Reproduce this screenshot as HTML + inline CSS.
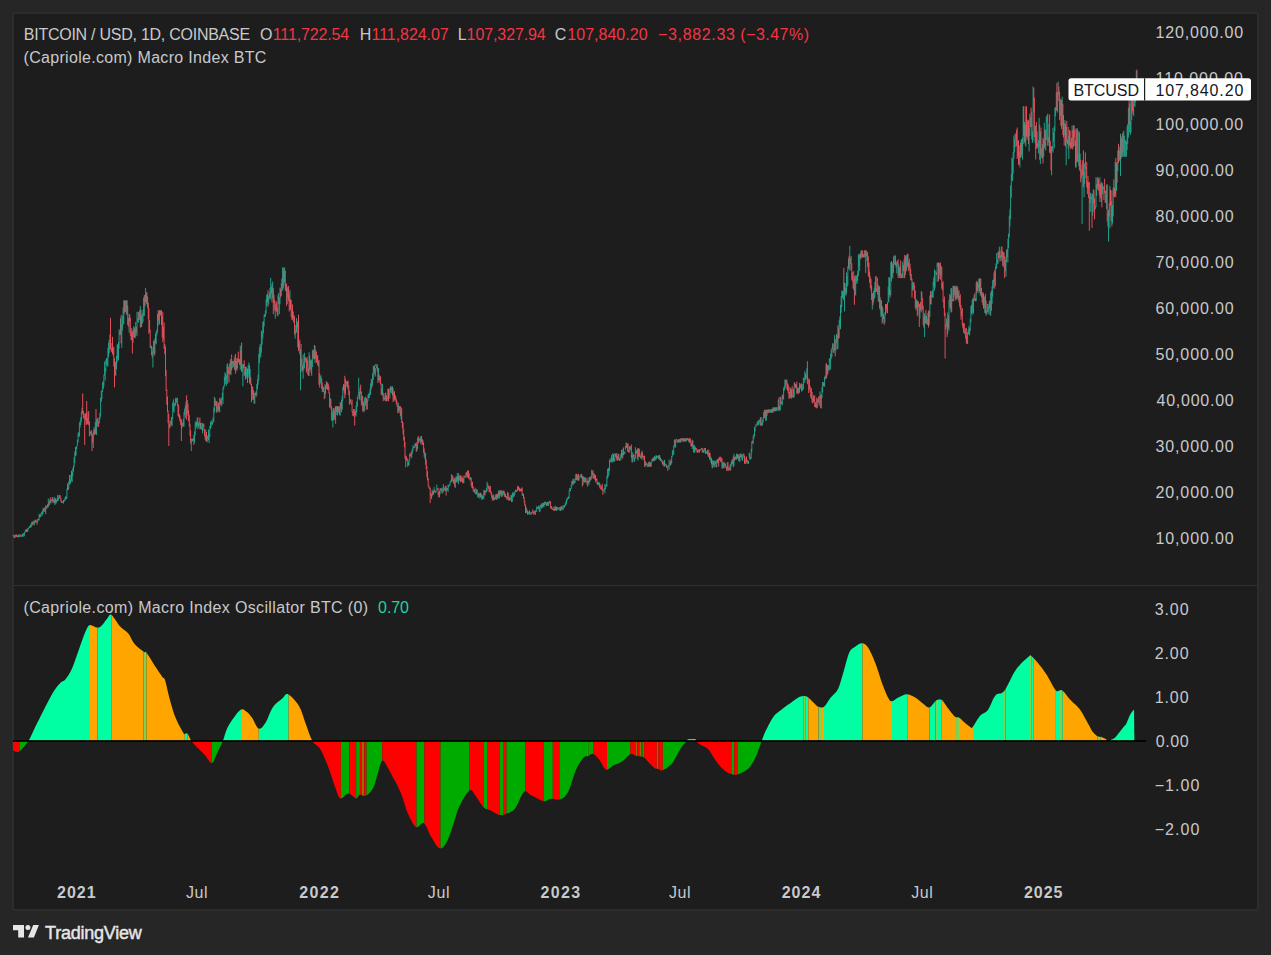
<!DOCTYPE html>
<html><head><meta charset="utf-8"><style>
html,body{margin:0;padding:0;width:1271px;height:955px;overflow:hidden;background:#262626}
.t{position:absolute;font-family:"Liberation Sans",sans-serif;white-space:nowrap;line-height:20px}
svg{position:absolute;left:0;top:0}
</style></head><body>
<div style="position:absolute;left:12px;top:12px;width:1243px;height:895px;border:2px solid #2c2c2c;border-radius:3px;background:#1d1d1d"></div>
<svg width="1271" height="955" viewBox="0 0 1271 955">
<rect x="13" y="585" width="1244" height="1" fill="#313131"/>
<defs><clipPath id="oc"><path d="M13,741 L13,749 C13.12,749.28 12.67,750.28 13.7,750.7 C14.73,751.12 16.75,753.12 19.2,751.5 C21.65,749.88 25.75,745.03 28.4,741 C31.05,736.97 32.58,732.38 35.1,727.3 C37.62,722.22 40.57,716.23 43.5,710.5 C46.43,704.77 49.90,697.50 52.7,692.9 C55.50,688.30 58.20,685.13 60.3,682.9 C62.40,680.67 63.35,681.88 65.3,679.5 C67.25,677.12 69.48,674.32 72,668.6 C74.52,662.88 78.17,651.33 80.4,645.2 C82.63,639.07 83.87,635.17 85.4,631.8 C86.93,628.43 87.65,625.70 89.6,625 C91.55,624.30 95.15,627.43 97.1,627.6 C99.05,627.77 99.62,627.53 101.3,626 C102.98,624.47 105.53,620.28 107.2,618.4 C108.87,616.52 109.22,613.45 111.3,614.7 C113.38,615.95 117.32,623.20 119.7,625.9 C122.08,628.60 124.07,629.50 125.6,630.9 C127.13,632.30 127.37,632.07 128.9,634.3 C130.43,636.53 132.28,641.37 134.8,644.3 C137.32,647.23 142.05,650.50 144,651.9 C145.95,653.30 144.55,650.18 146.5,652.7 C148.45,655.22 153.05,662.95 155.7,667 C158.35,671.05 160.85,674.82 162.4,677 C163.95,679.18 163.73,676.23 165,680.1 C166.27,683.97 168.18,693.78 170,700.2 C171.82,706.62 173.67,713.15 175.9,718.6 C178.13,724.05 181.87,730.38 183.4,732.9 C184.93,735.42 184.40,733.57 185.1,733.7 C185.80,733.83 186.53,732.48 187.6,733.7 C188.67,734.92 189.68,738.48 191.5,741 C193.32,743.52 196.22,746.38 198.5,748.8 C200.78,751.22 202.97,753.13 205.2,755.5 C207.43,757.87 209.95,763.28 211.9,763 C213.85,762.72 215.08,757.47 216.9,753.8 C218.72,750.13 221.12,745.18 222.8,741 C224.48,736.82 225.18,732.57 227,728.7 C228.82,724.83 231.33,721.02 233.7,717.8 C236.07,714.58 238.98,710.37 241.2,709.4 C243.42,708.43 245.18,710.60 247,712 C248.82,713.40 250.13,715.02 252.1,717.8 C254.07,720.58 256.57,727.87 258.8,728.7 C261.03,729.53 263.13,726.43 265.5,722.8 C267.87,719.17 270.20,710.95 273,706.9 C275.80,702.85 279.78,700.60 282.3,698.5 C284.82,696.40 285.32,693.05 288.1,694.3 C290.88,695.55 296.07,701.10 299,706 C301.93,710.90 303.47,717.87 305.7,723.7 C307.93,729.53 309.95,736.73 312.4,741 C314.85,745.27 317.67,744.73 320.4,749.3 C323.13,753.87 326.42,762.28 328.8,768.4 C331.18,774.52 332.78,781.00 334.7,786 C336.62,791.00 338.02,797.15 340.3,798.4 C342.58,799.65 345.80,793.50 348.4,793.5 C351.00,793.50 353.98,798.20 355.9,798.4 C357.82,798.60 358.15,795.17 359.9,794.7 C361.65,794.23 364.15,796.80 366.4,795.6 C368.65,794.40 371.50,791.22 373.4,787.5 C375.30,783.78 376.32,777.78 377.8,773.3 C379.28,768.82 380.62,761.52 382.3,760.6 C383.98,759.68 385.98,764.73 387.9,767.8 C389.82,770.87 392.42,776.47 393.8,779 C395.18,781.53 394.82,780.13 396.2,783 C397.58,785.87 400.13,791.07 402.1,796.2 C404.07,801.33 405.68,808.67 408,813.8 C410.32,818.93 413.32,825.40 416,827 C418.68,828.60 421.53,821.68 424.1,823.4 C426.67,825.12 428.83,833.15 431.4,837.3 C433.97,841.45 437.05,847.32 439.5,848.3 C441.95,849.28 444.02,846.50 446.1,843.2 C448.18,839.90 449.80,834.62 452,828.5 C454.20,822.38 456.37,812.85 459.3,806.5 C462.23,800.15 466.95,792.28 469.6,790.4 C472.25,788.52 472.83,792.35 475.2,795.2 C477.57,798.05 481.10,804.92 483.8,807.5 C486.50,810.08 488.77,809.43 491.4,810.7 C494.03,811.97 496.88,814.68 499.6,815.1 C502.32,815.52 505.08,814.35 507.7,813.2 C510.32,812.05 512.57,811.77 515.3,808.2 C518.03,804.63 521.37,793.90 524.1,791.8 C526.83,789.70 528.45,794.03 531.7,795.6 C534.95,797.17 540.45,800.68 543.6,801.2 C546.75,801.72 547.77,799.02 550.6,798.7 C553.43,798.38 557.67,800.45 560.6,799.3 C563.53,798.15 565.67,796.62 568.2,791.8 C570.73,786.98 573.28,776.07 575.8,770.4 C578.32,764.73 581.20,760.22 583.3,757.8 C585.40,755.38 586.72,756.53 588.4,755.9 C590.08,755.27 591.52,753.27 593.4,754 C595.28,754.73 597.60,757.68 599.7,760.3 C601.80,762.92 603.70,768.87 606,769.7 C608.30,770.53 611.17,766.47 613.5,765.3 C615.83,764.13 618.08,763.77 620,762.7 C621.92,761.63 623.22,760.37 625,758.9 C626.78,757.43 628.92,754.42 630.7,753.9 C632.48,753.38 633.60,755.28 635.7,755.8 C637.80,756.32 641.20,755.97 643.3,757 C645.40,758.03 646.52,760.22 648.3,762 C650.08,763.78 652.42,766.53 654,767.7 C655.58,768.87 656.33,768.58 657.8,769 C659.27,769.42 660.50,771.03 662.8,770.2 C665.10,769.37 669.30,766.40 671.6,764 C673.90,761.60 674.92,758.63 676.6,755.8 C678.28,752.97 679.97,749.47 681.7,747 C683.43,744.53 685.95,742.28 687,741 C688.05,739.72 686.58,739.58 688,739.3 C689.42,739.02 694.08,738.97 695.5,739.3 C696.92,739.63 695.75,740.45 696.5,741.3 C697.25,742.15 698.07,743.10 700,744.4 C701.93,745.70 705.50,746.42 708.1,749.1 C710.70,751.78 712.87,756.93 715.6,760.5 C718.33,764.07 721.77,768.20 724.5,770.5 C727.23,772.80 729.70,773.67 732,774.3 C734.30,774.93 735.57,775.25 738.3,774.3 C741.03,773.35 745.47,771.53 748.4,768.6 C751.33,765.67 753.70,761.30 755.9,756.7 C758.10,752.10 759.92,745.42 761.6,741 C763.28,736.58 764.00,734.30 766,730.2 C768.00,726.10 771.08,719.77 773.6,716.4 C776.12,713.03 778.78,711.90 781.1,710 C783.42,708.10 786.02,706.10 787.5,705 C788.98,703.90 788.32,704.57 790,703.4 C791.68,702.23 795.38,699.22 797.6,698 C799.82,696.78 801.52,696.20 803.3,696.1 C805.08,696.00 806.52,696.25 808.3,697.4 C810.08,698.55 812.32,701.43 814,703 C815.68,704.57 816.73,706.17 818.4,706.8 C820.07,707.43 822.02,708.27 824,706.8 C825.98,705.33 827.98,700.93 830.3,698 C832.62,695.07 835.80,693.18 837.9,689.2 C840.00,685.22 841.02,680.18 842.9,674.1 C844.78,668.02 847.10,657.32 849.2,652.7 C851.30,648.08 853.35,647.98 855.5,646.4 C857.65,644.82 860.00,643.00 862.1,643.2 C864.20,643.40 865.83,644.13 868.1,647.6 C870.37,651.07 873.38,658.12 875.7,664 C878.02,669.88 879.90,677.23 882,682.9 C884.10,688.57 886.63,694.95 888.3,698 C889.97,701.05 890.32,701.30 892,701.2 C893.68,701.10 895.87,698.57 898.4,697.4 C900.93,696.23 904.27,694.10 907.2,694.2 C910.13,694.30 913.48,696.53 916,698 C918.52,699.47 920.10,701.42 922.3,703 C924.50,704.58 926.90,707.92 929.2,707.5 C931.50,707.08 934.30,701.83 936.1,700.5 C937.90,699.17 938.93,699.50 940,699.5 C941.07,699.50 941.03,698.87 942.5,700.5 C943.97,702.13 946.70,706.58 948.8,709.3 C950.90,712.02 953.42,715.43 955.1,716.8 C956.78,718.17 957.22,716.45 958.9,717.5 C960.58,718.55 963.32,721.53 965.2,723.1 C967.08,724.67 968.95,726.27 970.2,726.9 C971.45,727.53 971.02,728.78 972.7,726.9 C974.38,725.02 977.77,718.43 980.3,715.6 C982.83,712.77 985.38,713.27 987.9,709.9 C990.42,706.53 992.68,698.55 995.4,695.4 C998.12,692.25 1000.83,695.20 1004.2,691 C1007.57,686.80 1011.60,675.87 1015.6,670.2 C1019.60,664.53 1025.48,659.30 1028.2,657 C1030.92,654.70 1029.80,654.83 1031.9,656.4 C1034.00,657.97 1038.28,663.25 1040.8,666.4 C1043.32,669.55 1044.48,671.30 1047,675.3 C1049.52,679.30 1053.37,687.88 1055.9,690.4 C1058.43,692.92 1059.68,688.72 1062.2,690.4 C1064.72,692.08 1068.07,697.35 1071,700.5 C1073.93,703.65 1076.85,705.25 1079.8,709.3 C1082.75,713.35 1086.58,721.10 1088.7,724.8 C1090.82,728.50 1091.12,729.65 1092.5,731.5 C1093.88,733.35 1095.52,735.00 1097,735.9 C1098.48,736.80 1099.93,736.38 1101.4,736.9 C1102.87,737.42 1104.70,738.22 1105.8,739 C1106.90,739.78 1107.27,741.38 1108,741.6 C1108.73,741.82 1109.10,740.88 1110.2,740.3 C1111.30,739.72 1113.13,739.35 1114.6,738.1 C1116.07,736.85 1117.43,734.73 1119,732.8 C1120.57,730.87 1122.85,727.87 1124,726.5 C1125.15,725.13 1124.85,726.60 1125.9,724.6 C1126.95,722.60 1128.93,717.02 1130.3,714.5 C1131.67,711.98 1133.47,710.33 1134.1,709.5 L1134.6,741 L1134.6,741 Z"/></clipPath></defs>
<g clip-path="url(#oc)"><rect x="13" y="600" width="6.7" height="260" fill="#ff0000"/><rect x="19.7" y="600" width="8.7" height="260" fill="#00ab00"/><rect x="28.4" y="600" width="61.6" height="260" fill="#00ffa3"/><rect x="90" y="600" width="7.4" height="260" fill="#ffa500"/><rect x="97.4" y="600" width="13.9" height="260" fill="#00ffa3"/><rect x="111.3" y="600" width="32.2" height="260" fill="#ffa500"/><rect x="143.5" y="600" width="3.0" height="260" fill="#7fd152"/><rect x="146.5" y="600" width="38.3" height="260" fill="#ffa500"/><rect x="184.8" y="600" width="2.8" height="260" fill="#00ffa3"/><rect x="187.6" y="600" width="3.9" height="260" fill="#ffa500"/><rect x="191.5" y="600" width="20.1" height="260" fill="#ff0000"/><rect x="211.6" y="600" width="11.2" height="260" fill="#00ab00"/><rect x="222.8" y="600" width="19.2" height="260" fill="#00ffa3"/><rect x="242" y="600" width="16.8" height="260" fill="#ffa500"/><rect x="258.8" y="600" width="29.8" height="260" fill="#00ffa3"/><rect x="288.6" y="600" width="23.8" height="260" fill="#ffa500"/><rect x="312.4" y="600" width="28.5" height="260" fill="#ff0000"/><rect x="340.9" y="600" width="8.4" height="260" fill="#00ab00"/><rect x="349.3" y="600" width="6.9" height="260" fill="#ff0000"/><rect x="356.2" y="600" width="3.7" height="260" fill="#00ab00"/><rect x="359.9" y="600" width="1.8" height="260" fill="#ff0000"/><rect x="361.7" y="600" width="2.6" height="260" fill="#9a6a00"/><rect x="364.3" y="600" width="2.2" height="260" fill="#ff0000"/><rect x="366.5" y="600" width="15.8" height="260" fill="#00ab00"/><rect x="382.3" y="600" width="34.2" height="260" fill="#ff0000"/><rect x="416.5" y="600" width="7.9" height="260" fill="#00ab00"/><rect x="424.4" y="600" width="16.1" height="260" fill="#ff0000"/><rect x="440.5" y="600" width="29.1" height="260" fill="#00ab00"/><rect x="469.6" y="600" width="14.0" height="260" fill="#ff0000"/><rect x="483.6" y="600" width="3.4" height="260" fill="#00ab00"/><rect x="487" y="600" width="12.8" height="260" fill="#ff0000"/><rect x="499.8" y="600" width="3.9" height="260" fill="#00ab00"/><rect x="503.7" y="600" width="2.8" height="260" fill="#ff0000"/><rect x="506.5" y="600" width="18.6" height="260" fill="#00ab00"/><rect x="525.1" y="600" width="18.5" height="260" fill="#ff0000"/><rect x="543.6" y="600" width="9.2" height="260" fill="#00ab00"/><rect x="552.8" y="600" width="6.6" height="260" fill="#ff0000"/><rect x="559.4" y="600" width="27.6" height="260" fill="#00ab00"/><rect x="587" y="600" width="1.4" height="260" fill="#9a6a00"/><rect x="588.4" y="600" width="5.2" height="260" fill="#00ab00"/><rect x="593.6" y="600" width="13.4" height="260" fill="#ff0000"/><rect x="607" y="600" width="23.4" height="260" fill="#00ab00"/><rect x="630.4" y="600" width="5.3" height="260" fill="#ff0000"/><rect x="635.7" y="600" width="1.6" height="260" fill="#9a6a00"/><rect x="637.3" y="600" width="2.2" height="260" fill="#ff0000"/><rect x="639.5" y="600" width="1.6" height="260" fill="#9a6a00"/><rect x="641.1" y="600" width="1.2" height="260" fill="#ff0000"/><rect x="642.3" y="600" width="1.9" height="260" fill="#00ab00"/><rect x="644.2" y="600" width="12.6" height="260" fill="#ff0000"/><rect x="656.8" y="600" width="1.6" height="260" fill="#9a6a00"/><rect x="658.4" y="600" width="4.4" height="260" fill="#ff0000"/><rect x="662.8" y="600" width="24.2" height="260" fill="#00ab00"/><rect x="687" y="600" width="4.5" height="260" fill="#00ffa3"/><rect x="691.5" y="600" width="5.0" height="260" fill="#ffa500"/><rect x="696.5" y="600" width="34.9" height="260" fill="#ff0000"/><rect x="731.4" y="600" width="2.9" height="260" fill="#00ab00"/><rect x="734.3" y="600" width="3.7" height="260" fill="#ff0000"/><rect x="738" y="600" width="23.6" height="260" fill="#00ab00"/><rect x="761.6" y="600" width="41.7" height="260" fill="#00ffa3"/><rect x="803.3" y="600" width="2.5" height="260" fill="#7fd152"/><rect x="805.8" y="600" width="2.5" height="260" fill="#00ffa3"/><rect x="808.3" y="600" width="10.1" height="260" fill="#ffa500"/><rect x="818.4" y="600" width="2.6" height="260" fill="#7fd152"/><rect x="821" y="600" width="3" height="260" fill="#ffa500"/><rect x="824" y="600" width="38.5" height="260" fill="#00ffa3"/><rect x="862.5" y="600" width="29.5" height="260" fill="#ffa500"/><rect x="892" y="600" width="15.8" height="260" fill="#00ffa3"/><rect x="907.8" y="600" width="21.8" height="260" fill="#ffa500"/><rect x="929.6" y="600" width="5.9" height="260" fill="#00ffa3"/><rect x="935.5" y="600" width="2.5" height="260" fill="#7fd152"/><rect x="938" y="600" width="3.2" height="260" fill="#00ffa3"/><rect x="941.2" y="600" width="13.8" height="260" fill="#ffa500"/><rect x="955" y="600" width="4" height="260" fill="#7fd152"/><rect x="959" y="600" width="14" height="260" fill="#ffa500"/><rect x="973" y="600" width="31" height="260" fill="#00ffa3"/><rect x="1004" y="600" width="1.7" height="260" fill="#7fd152"/><rect x="1005.7" y="600" width="24.3" height="260" fill="#00ffa3"/><rect x="1030" y="600" width="1.8" height="260" fill="#7fd152"/><rect x="1031.8" y="600" width="2.0" height="260" fill="#00ffa3"/><rect x="1033.8" y="600" width="22.1" height="260" fill="#ffa500"/><rect x="1055.9" y="600" width="3.1" height="260" fill="#00ffa3"/><rect x="1059" y="600" width="2" height="260" fill="#7fd152"/><rect x="1061" y="600" width="1.8" height="260" fill="#00ffa3"/><rect x="1062.8" y="600" width="34.6" height="260" fill="#ffa500"/><rect x="1097.4" y="600" width="3.3" height="260" fill="#7fd152"/><rect x="1100.7" y="600" width="6.3" height="260" fill="#ffa500"/><rect x="1107" y="600" width="2" height="260" fill="#ff0000"/><rect x="1109" y="600" width="25.6" height="260" fill="#00ffa3"/></g>
<rect x="13" y="740" width="1133" height="2" fill="#000" opacity="0.85"/>
<g fill="none" stroke-width="0.9"><path d="M13.3 534.8V536.1" stroke="#22ab94"/><path d="M13.9 534.9V537.7M14.6 535.7V537.8" stroke="#f7525f"/><path d="M15.2 534.7V537.8M15.9 534.5V536.1" stroke="#22ab94"/><path d="M16.6 534.5V537.0M17.2 535.3V536.9M17.9 535.5V537.2" stroke="#f7525f"/><path d="M18.5 534.9V537.4M19.2 534.2V535.4" stroke="#22ab94"/><path d="M19.9 534.3V537.2" stroke="#f7525f"/><path d="M20.5 535.1V536.5" stroke="#22ab94"/><path d="M21.2 535.5V536.8" stroke="#f7525f"/><path d="M21.9 534.8V536.7M22.5 533.9V536.6M23.2 533.2V534.6" stroke="#22ab94"/><path d="M23.8 533.2V536.8" stroke="#f7525f"/><path d="M24.5 532.3V535.7M25.2 530.4V532.7M25.8 529.4V532.0" stroke="#22ab94"/><path d="M26.5 529.2V532.0" stroke="#f7525f"/><path d="M27.1 529.1V531.4M27.8 528.0V532.0M28.5 527.9V529.3M29.1 526.3V528.1M29.8 526.0V527.9M30.5 525.0V527.6M31.1 523.5V527.4M31.8 521.7V526.2" stroke="#22ab94"/><path d="M32.4 522.2V524.8" stroke="#f7525f"/><path d="M33.1 520.7V525.1" stroke="#22ab94"/><path d="M33.8 521.9V523.6" stroke="#f7525f"/><path d="M34.4 520.7V525.3" stroke="#22ab94"/><path d="M35.1 520.2V522.7" stroke="#f7525f"/><path d="M35.8 519.4V522.7" stroke="#22ab94"/><path d="M36.4 520.3V521.8M37.1 521.1V524.7" stroke="#f7525f"/><path d="M37.7 518.9V522.3M38.4 518.9V520.2M39.1 513.7V520.5" stroke="#22ab94"/><path d="M39.7 514.9V517.6" stroke="#f7525f"/><path d="M40.4 514.3V516.6M41.0 513.0V517.0M41.7 511.8V514.1M42.4 510.8V515.4M43.0 507.6V513.4" stroke="#22ab94"/><path d="M43.7 509.1V511.7" stroke="#f7525f"/><path d="M44.4 507.8V511.6" stroke="#22ab94"/><path d="M45.0 507.8V511.6" stroke="#f7525f"/><path d="M45.7 505.3V514.2" stroke="#22ab94"/><path d="M46.3 506.1V508.7" stroke="#f7525f"/><path d="M47.0 505.6V508.4" stroke="#22ab94"/><path d="M47.7 504.0V507.3" stroke="#f7525f"/><path d="M48.3 498.5V507.3" stroke="#22ab94"/><path d="M49.0 502.2V505.6" stroke="#f7525f"/><path d="M49.7 500.2V504.9" stroke="#22ab94"/><path d="M50.3 497.4V502.9" stroke="#f7525f"/><path d="M51.0 499.9V503.4M51.6 499.2V501.1M52.3 497.0V501.2" stroke="#22ab94"/><path d="M53.0 497.4V503.2" stroke="#f7525f"/><path d="M53.6 499.7V501.7" stroke="#22ab94"/><path d="M54.3 498.9V503.2" stroke="#f7525f"/><path d="M54.9 497.2V505.0" stroke="#22ab94"/><path d="M55.6 498.5V503.4" stroke="#f7525f"/><path d="M56.3 500.1V503.4M56.9 498.6V501.6M57.6 494.8V501.2M58.3 497.9V500.7M58.9 495.3V498.8M59.6 494.9V498.2" stroke="#22ab94"/><path d="M60.2 495.2V498.6M60.9 497.7V501.7M61.6 500.5V502.8" stroke="#f7525f"/><path d="M62.2 501.2V503.0" stroke="#22ab94"/><path d="M62.9 501.7V502.7" stroke="#f7525f"/><path d="M63.5 499.9V503.6M64.2 499.9V501.7M64.9 497.8V500.9M65.5 496.6V499.9M66.2 496.1V498.9M66.9 488.7V498.9M67.5 483.3V490.1" stroke="#22ab94"/><path d="M68.2 486.2V490.2" stroke="#f7525f"/><path d="M68.8 481.2V488.9M69.5 475.0V484.8M70.2 479.6V484.3M70.8 474.7V482.7" stroke="#22ab94"/><path d="M71.5 470.7V480.8" stroke="#f7525f"/><path d="M72.2 472.0V482.0M72.8 467.9V475.9M73.5 465.5V471.7M74.1 457.0V467.3M74.8 451.5V463.2M75.5 446.9V456.2M76.1 446.6V455.3M76.8 445.6V449.0M77.4 439.6V445.8M78.1 433.0V442.5M78.8 431.8V437.1M79.4 422.6V436.4M80.1 420.9V427.6M80.8 417.3V425.1M81.4 411.4V421.5M82.1 407.7V412.9" stroke="#22ab94"/><path d="M82.7 393.4V414.3M83.4 411.0V418.5M84.1 416.1V417.1M84.7 413.9V445.0" stroke="#f7525f"/><path d="M85.4 413.1V420.1" stroke="#22ab94"/><path d="M86.1 413.2V424.7M86.7 401.0V424.9" stroke="#f7525f"/><path d="M87.4 418.0V424.1M88.0 411.6V423.4" stroke="#22ab94"/><path d="M88.7 411.1V425.3M89.4 421.5V436.4M90.0 431.9V434.6" stroke="#f7525f"/><path d="M90.7 431.5V433.6" stroke="#22ab94"/><path d="M91.3 430.0V435.9M92.0 432.8V451.0M92.7 435.4V442.8" stroke="#f7525f"/><path d="M93.3 430.7V448.0M94.0 427.2V435.3" stroke="#22ab94"/><path d="M94.7 428.9V435.0" stroke="#f7525f"/><path d="M95.3 422.0V434.0" stroke="#22ab94"/><path d="M96.0 409.0V433.8" stroke="#f7525f"/><path d="M96.6 419.2V435.0M97.3 418.7V426.5" stroke="#22ab94"/><path d="M98.0 417.9V422.4M98.6 421.6V427.1" stroke="#f7525f"/><path d="M99.3 417.2V423.4M99.9 413.0V419.2M100.6 397.7V416.7M101.3 390.4V401.8M101.9 391.4V399.0M102.6 382.4V392.0M103.3 380.9V389.0M103.9 374.5V386.2M104.6 361.5V375.7M105.2 368.0V380.4M105.9 359.6V371.5M106.6 358.1V365.4M107.2 357.8V365.2M107.9 348.0V366.7M108.6 342.8V357.3M109.2 339.6V353.2M109.9 334.6V349.3" stroke="#22ab94"/><path d="M110.5 317.8V349.2M111.2 348.1V351.6" stroke="#f7525f"/><path d="M111.9 343.0V352.3" stroke="#22ab94"/><path d="M112.5 336.8V354.2M113.2 348.2V355.6M113.8 346.7V366.5M114.5 358.3V387.4M115.2 361.6V375.1" stroke="#f7525f"/><path d="M115.8 362.6V375.9M116.5 355.9V369.3M117.2 344.7V362.5" stroke="#22ab94"/><path d="M117.8 344.1V358.5" stroke="#f7525f"/><path d="M118.5 342.1V360.4M119.1 329.1V348.7" stroke="#22ab94"/><path d="M119.8 331.0V335.1" stroke="#f7525f"/><path d="M120.5 318.4V334.6" stroke="#22ab94"/><path d="M121.1 315.0V343.4" stroke="#f7525f"/><path d="M121.8 324.1V347.8M122.4 316.0V330.4M123.1 307.6V324.6M123.8 300.3V323.9" stroke="#22ab94"/><path d="M124.4 300.3V312.9" stroke="#f7525f"/><path d="M125.1 300.3V312.1" stroke="#22ab94"/><path d="M125.8 300.8V311.8" stroke="#f7525f"/><path d="M126.4 300.3V314.9" stroke="#22ab94"/><path d="M127.1 300.3V313.7M127.7 305.5V325.1M128.4 318.1V326.9" stroke="#f7525f"/><path d="M129.1 314.2V332.7" stroke="#22ab94"/><path d="M129.7 314.2V321.7M130.4 317.7V335.8M131.1 332.5V340.1" stroke="#f7525f"/><path d="M131.7 328.1V340.2" stroke="#22ab94"/><path d="M132.4 331.6V353.6M133.0 330.3V342.8" stroke="#f7525f"/><path d="M133.7 326.3V337.0M134.4 327.4V337.9" stroke="#22ab94"/><path d="M135.0 329.1V338.2" stroke="#f7525f"/><path d="M135.7 322.0V336.7" stroke="#22ab94"/><path d="M136.3 326.6V332.9" stroke="#f7525f"/><path d="M137.0 311.8V336.1M137.7 318.7V321.6M138.3 312.1V322.8" stroke="#22ab94"/><path d="M139.0 311.7V319.8" stroke="#f7525f"/><path d="M139.7 310.4V320.2M140.3 306.1V327.7" stroke="#22ab94"/><path d="M141.0 309.5V326.9M141.6 315.3V327.1" stroke="#f7525f"/><path d="M142.3 313.5V323.5M143.0 310.0V322.1M143.6 297.6V315.8M144.3 295.0V316.1" stroke="#22ab94"/><path d="M145.0 294.9V306.6" stroke="#f7525f"/><path d="M145.6 287.9V301.9M146.3 292.7V304.5" stroke="#22ab94"/><path d="M146.9 292.3V303.4M147.6 296.5V308.2M148.3 302.8V319.3M148.9 308.1V333.9M149.6 320.2V331.9M150.2 329.8V348.1" stroke="#f7525f"/><path d="M150.9 345.5V348.4" stroke="#22ab94"/><path d="M151.6 345.8V355.1M152.2 351.7V357.5" stroke="#f7525f"/><path d="M152.9 347.3V367.5M153.6 340.6V353.2" stroke="#22ab94"/><path d="M154.2 341.0V355.8" stroke="#f7525f"/><path d="M154.9 338.3V354.4" stroke="#22ab94"/><path d="M155.5 333.6V343.3" stroke="#f7525f"/><path d="M156.2 331.4V344.3M156.9 329.4V335.4M157.5 313.8V332.6M158.2 310.3V325.9" stroke="#22ab94"/><path d="M158.8 310.3V320.4" stroke="#f7525f"/><path d="M159.5 310.3V324.3M160.2 310.3V315.8" stroke="#22ab94"/><path d="M160.8 310.3V315.1M161.5 310.3V324.9M162.2 316.1V337.2M162.8 311.8V342.1" stroke="#f7525f"/><path d="M163.5 326.6V339.4" stroke="#22ab94"/><path d="M164.1 322.5V348.8M164.8 343.9V354.2M165.5 346.6V376.3M166.1 370.0V391.0M166.8 389.3V404.9M167.5 396.6V412.2M168.1 410.6V423.2M168.8 414.0V446.0" stroke="#f7525f"/><path d="M169.4 423.9V428.3" stroke="#22ab94"/><path d="M170.1 420.6V427.5" stroke="#f7525f"/><path d="M170.8 421.3V424.4" stroke="#22ab94"/><path d="M171.4 417.1V425.3" stroke="#f7525f"/><path d="M172.1 417.7V426.4M172.7 402.6V419.1M173.4 399.3V411.2M174.1 402.8V412.7M174.7 403.3V405.3M175.4 397.8V406.3M176.1 401.1V403.1M176.7 397.8V402.1" stroke="#22ab94"/><path d="M177.4 397.8V405.8M178.0 403.7V415.8M178.7 405.3V417.0M179.4 414.2V419.4M180.0 415.4V421.8M180.7 418.5V425.0M181.4 419.7V441.0" stroke="#f7525f"/><path d="M182.0 423.0V428.0" stroke="#22ab94"/><path d="M182.7 422.5V426.2" stroke="#f7525f"/><path d="M183.3 418.9V426.5M184.0 412.0V426.7M184.7 408.6V415.3M185.3 405.4V418.1M186.0 401.7V409.3" stroke="#22ab94"/><path d="M186.6 395.3V419.8" stroke="#f7525f"/><path d="M187.3 400.0V413.9" stroke="#22ab94"/><path d="M188.0 403.7V415.9M188.6 410.3V421.4M189.3 415.1V426.6M190.0 423.7V435.8M190.6 430.3V443.5" stroke="#f7525f"/><path d="M191.3 438.6V451.0" stroke="#22ab94"/><path d="M191.9 439.0V440.8" stroke="#f7525f"/><path d="M192.6 438.6V441.3" stroke="#22ab94"/><path d="M193.3 438.5V440.7M193.9 434.8V444.9" stroke="#f7525f"/><path d="M194.6 431.3V442.8M195.2 422.5V435.1M195.9 421.1V428.9M196.6 422.1V426.9M197.2 417.5V425.7" stroke="#22ab94"/><path d="M197.9 417.5V429.1" stroke="#f7525f"/><path d="M198.6 423.1V427.4M199.2 421.6V424.9" stroke="#22ab94"/><path d="M199.9 417.5V429.5" stroke="#f7525f"/><path d="M200.5 422.8V428.7" stroke="#22ab94"/><path d="M201.2 422.9V429.4M201.9 427.4V429.5" stroke="#f7525f"/><path d="M202.5 423.0V433.5" stroke="#22ab94"/><path d="M203.2 424.3V426.7M203.9 423.5V430.6M204.5 429.3V436.2M205.2 435.1V439.9" stroke="#f7525f"/><path d="M205.8 429.4V441.0" stroke="#22ab94"/><path d="M206.5 431.9V441.6" stroke="#f7525f"/><path d="M207.2 435.5V442.3M207.8 436.3V439.0M208.5 429.6V440.2M209.1 433.9V443.0M209.8 425.9V436.9M210.5 421.6V428.8M211.1 422.5V427.4" stroke="#22ab94"/><path d="M211.8 420.0V424.3" stroke="#f7525f"/><path d="M212.5 422.4V424.8M213.1 417.2V423.0M213.8 407.6V421.9M214.4 396.8V412.4" stroke="#22ab94"/><path d="M215.1 398.3V405.6" stroke="#f7525f"/><path d="M215.8 400.8V406.3" stroke="#22ab94"/><path d="M216.4 401.0V412.6" stroke="#f7525f"/><path d="M217.1 406.1V412.6M217.8 401.7V410.7" stroke="#22ab94"/><path d="M218.4 402.9V410.6" stroke="#f7525f"/><path d="M219.1 405.7V412.3M219.7 397.8V412.2" stroke="#22ab94"/><path d="M220.4 398.6V404.8" stroke="#f7525f"/><path d="M221.1 400.2V404.1M221.7 397.4V406.2M222.4 392.7V399.9M223.0 387.6V404.0M223.7 385.7V389.3M224.4 377.0V386.6M225.0 372.2V380.7" stroke="#22ab94"/><path d="M225.7 373.7V384.2" stroke="#f7525f"/><path d="M226.4 375.6V385.8M227.0 364.4V379.0M227.7 363.2V383.7" stroke="#22ab94"/><path d="M228.3 366.7V374.2M229.0 370.6V382.3" stroke="#f7525f"/><path d="M229.7 363.6V373.6" stroke="#22ab94"/><path d="M230.3 359.2V374.3" stroke="#f7525f"/><path d="M231.0 361.4V375.2" stroke="#22ab94"/><path d="M231.6 354.5V370.3" stroke="#f7525f"/><path d="M232.3 360.8V368.1" stroke="#22ab94"/><path d="M233.0 360.9V363.4M233.6 361.5V366.9" stroke="#f7525f"/><path d="M234.3 358.3V369.2" stroke="#22ab94"/><path d="M235.0 355.5V370.3" stroke="#f7525f"/><path d="M235.6 353.8V373.8M236.3 360.9V369.6" stroke="#22ab94"/><path d="M236.9 358.1V370.8" stroke="#f7525f"/><path d="M237.6 358.1V368.6" stroke="#22ab94"/><path d="M238.3 351.7V362.4M238.9 359.1V362.4M239.6 359.3V364.9" stroke="#f7525f"/><path d="M240.3 345.6V369.8" stroke="#22ab94"/><path d="M240.9 350.3V365.2M241.6 342.5V371.9" stroke="#f7525f"/><path d="M242.2 363.9V371.1M242.9 364.7V386.3" stroke="#22ab94"/><path d="M243.6 364.1V368.3M244.2 360.4V376.1" stroke="#f7525f"/><path d="M244.9 371.0V375.4" stroke="#22ab94"/><path d="M245.5 366.6V379.6" stroke="#f7525f"/><path d="M246.2 366.8V378.4M246.9 368.5V376.3" stroke="#22ab94"/><path d="M247.5 368.6V383.0" stroke="#f7525f"/><path d="M248.2 365.5V377.7M248.9 362.4V373.7" stroke="#22ab94"/><path d="M249.5 365.2V383.2" stroke="#f7525f"/><path d="M250.2 369.1V383.9" stroke="#22ab94"/><path d="M250.8 377.5V385.0M251.5 383.8V402.2M252.2 386.2V394.4M252.8 387.0V400.0M253.5 390.3V399.5M254.1 394.7V403.7" stroke="#f7525f"/><path d="M254.8 392.6V403.7M255.5 393.0V395.1" stroke="#22ab94"/><path d="M256.1 391.2V397.0" stroke="#f7525f"/><path d="M256.8 383.8V395.3M257.5 379.3V389.3M258.1 374.7V384.8M258.8 354.2V380.5M259.4 347.4V363.1M260.1 344.3V358.0M260.8 344.6V356.8M261.4 330.6V352.7M262.1 332.2V344.9M262.8 322.3V338.5M263.4 321.1V333.4M264.1 314.6V326.5M264.7 314.1V316.6M265.4 310.4V317.0M266.1 299.4V313.9M266.7 294.7V306.4M267.4 293.9V302.3" stroke="#22ab94"/><path d="M268.0 290.2V306.7" stroke="#f7525f"/><path d="M268.7 296.4V304.6M269.4 292.4V298.9M270.0 287.8V297.1M270.7 277.9V299.6M271.4 286.8V293.4" stroke="#22ab94"/><path d="M272.0 283.8V302.4" stroke="#f7525f"/><path d="M272.7 281.5V298.5" stroke="#22ab94"/><path d="M273.3 288.1V314.1M274.0 294.9V303.1M274.7 299.7V310.6" stroke="#f7525f"/><path d="M275.3 304.4V318.7" stroke="#22ab94"/><path d="M276.0 301.4V310.1M276.7 302.2V312.0M277.3 307.7V315.6" stroke="#f7525f"/><path d="M278.0 295.5V316.3M278.6 293.0V304.0" stroke="#22ab94"/><path d="M279.3 297.0V314.2" stroke="#f7525f"/><path d="M280.0 287.7V304.4" stroke="#22ab94"/><path d="M280.6 288.6V297.3" stroke="#f7525f"/><path d="M281.3 283.2V295.8M281.9 278.6V288.3M282.6 267.4V290.9" stroke="#22ab94"/><path d="M283.3 267.6V288.6" stroke="#f7525f"/><path d="M283.9 270.9V285.7M284.6 267.4V282.6" stroke="#22ab94"/><path d="M285.3 270.5V291.0" stroke="#f7525f"/><path d="M285.9 282.9V290.7" stroke="#22ab94"/><path d="M286.6 284.0V305.9" stroke="#f7525f"/><path d="M287.2 286.5V304.1M287.9 288.1V297.4" stroke="#22ab94"/><path d="M288.6 286.0V301.1M289.2 294.4V311.6" stroke="#f7525f"/><path d="M289.9 290.2V309.3" stroke="#22ab94"/><path d="M290.5 299.5V310.0M291.2 299.8V317.1" stroke="#f7525f"/><path d="M291.9 309.5V320.0" stroke="#22ab94"/><path d="M292.5 304.5V319.3M293.2 311.5V321.2" stroke="#f7525f"/><path d="M293.9 315.1V323.0" stroke="#22ab94"/><path d="M294.5 316.3V334.6" stroke="#f7525f"/><path d="M295.2 330.0V338.6M295.8 324.9V333.4M296.5 318.1V332.4M297.2 322.6V328.2" stroke="#22ab94"/><path d="M297.8 321.0V347.4M298.5 314.7V351.2" stroke="#f7525f"/><path d="M299.2 341.9V349.2" stroke="#22ab94"/><path d="M299.8 339.7V354.4" stroke="#f7525f"/><path d="M300.5 349.4V390.3" stroke="#22ab94"/><path d="M301.1 344.0V365.9M301.8 358.7V372.1M302.5 365.5V370.3" stroke="#f7525f"/><path d="M303.1 354.5V378.8M303.8 362.0V370.4M304.4 352.8V368.2" stroke="#22ab94"/><path d="M305.1 357.2V360.5M305.8 357.5V362.5M306.4 358.9V372.6M307.1 357.1V370.1M307.8 360.5V374.5M308.4 368.7V375.9" stroke="#f7525f"/><path d="M309.1 352.3V375.9" stroke="#22ab94"/><path d="M309.7 355.6V370.6" stroke="#f7525f"/><path d="M310.4 359.7V369.3" stroke="#22ab94"/><path d="M311.1 361.0V373.1" stroke="#f7525f"/><path d="M311.7 359.5V375.9M312.4 349.9V367.0" stroke="#22ab94"/><path d="M313.1 351.5V358.4" stroke="#f7525f"/><path d="M313.7 349.5V359.2" stroke="#22ab94"/><path d="M314.4 345.0V359.3" stroke="#f7525f"/><path d="M315.0 345.9V362.9" stroke="#22ab94"/><path d="M315.7 349.9V358.6M316.4 351.7V362.5M317.0 355.0V363.2M317.7 355.4V365.2" stroke="#f7525f"/><path d="M318.3 361.4V366.6" stroke="#22ab94"/><path d="M319.0 360.0V384.9M319.7 372.9V387.6" stroke="#f7525f"/><path d="M320.3 376.3V383.6M321.0 375.2V382.1" stroke="#22ab94"/><path d="M321.7 378.4V388.8M322.3 382.6V392.1" stroke="#f7525f"/><path d="M323.0 387.1V391.1" stroke="#22ab94"/><path d="M323.6 386.9V392.0M324.3 391.2V399.2" stroke="#f7525f"/><path d="M325.0 384.3V398.2" stroke="#22ab94"/><path d="M325.6 385.4V393.9" stroke="#f7525f"/><path d="M326.3 381.3V388.8" stroke="#22ab94"/><path d="M326.9 381.8V388.9M327.6 382.8V390.0M328.3 383.7V389.9M328.9 386.1V393.5M329.6 392.6V407.7" stroke="#f7525f"/><path d="M330.3 398.2V406.4" stroke="#22ab94"/><path d="M330.9 399.2V409.1M331.6 406.1V420.2" stroke="#f7525f"/><path d="M332.2 412.4V421.2M332.9 409.4V427.5" stroke="#22ab94"/><path d="M333.6 408.0V420.0" stroke="#f7525f"/><path d="M334.2 410.9V418.6" stroke="#22ab94"/><path d="M334.9 407.6V420.2" stroke="#f7525f"/><path d="M335.6 406.1V423.8" stroke="#22ab94"/><path d="M336.2 406.1V411.8" stroke="#f7525f"/><path d="M336.9 406.1V415.0" stroke="#22ab94"/><path d="M337.5 406.1V415.5" stroke="#f7525f"/><path d="M338.2 406.5V413.2" stroke="#22ab94"/><path d="M338.9 406.4V411.5" stroke="#f7525f"/><path d="M339.5 406.8V415.2M340.2 401.9V415.6" stroke="#22ab94"/><path d="M340.8 403.2V408.5" stroke="#f7525f"/><path d="M341.5 399.8V412.2M342.2 395.8V409.7M342.8 387.2V401.1M343.5 384.1V390.2" stroke="#22ab94"/><path d="M344.2 384.6V392.8M344.8 375.8V398.2" stroke="#f7525f"/><path d="M345.5 378.8V394.7M346.1 381.2V387.5" stroke="#22ab94"/><path d="M346.8 381.2V384.7M347.5 381.3V387.1M348.1 380.5V389.9M348.8 385.3V395.2M349.4 390.7V404.7" stroke="#f7525f"/><path d="M350.1 399.4V403.1" stroke="#22ab94"/><path d="M350.8 399.1V403.3" stroke="#f7525f"/><path d="M351.4 402.6V404.7" stroke="#22ab94"/><path d="M352.1 399.7V412.4M352.8 410.9V415.8" stroke="#f7525f"/><path d="M353.4 409.1V416.4" stroke="#22ab94"/><path d="M354.1 411.5V415.5M354.7 409.0V425.6M355.4 410.9V415.4" stroke="#f7525f"/><path d="M356.1 405.9V416.6M356.7 401.6V412.2M357.4 397.0V406.7M358.1 394.8V398.6M358.7 377.8V395.6" stroke="#22ab94"/><path d="M359.4 391.6V399.4" stroke="#f7525f"/><path d="M360.0 387.9V400.4" stroke="#22ab94"/><path d="M360.7 384.6V393.9M361.4 391.6V405.6" stroke="#f7525f"/><path d="M362.0 395.8V403.6" stroke="#22ab94"/><path d="M362.7 396.0V411.6" stroke="#f7525f"/><path d="M363.3 401.5V410.8" stroke="#22ab94"/><path d="M364.0 402.4V412.3" stroke="#f7525f"/><path d="M364.7 397.9V410.6M365.3 396.6V405.9M366.0 397.7V403.1" stroke="#22ab94"/><path d="M366.7 398.1V409.6" stroke="#f7525f"/><path d="M367.3 399.6V409.5M368.0 394.7V401.0M368.6 393.7V398.0M369.3 392.6V398.2M370.0 389.2V393.5M370.6 383.3V395.2M371.3 378.9V389.5" stroke="#22ab94"/><path d="M372.0 379.7V387.0" stroke="#f7525f"/><path d="M372.6 373.3V385.2M373.3 365.9V379.9" stroke="#22ab94"/><path d="M373.9 366.3V372.1" stroke="#f7525f"/><path d="M374.6 365.0V374.3" stroke="#22ab94"/><path d="M375.3 367.8V376.5" stroke="#f7525f"/><path d="M375.9 363.9V366.3M376.6 365.8V368.3" stroke="#22ab94"/><path d="M377.2 364.1V371.6M377.9 367.6V383.1" stroke="#f7525f"/><path d="M378.6 368.0V380.4" stroke="#22ab94"/><path d="M379.2 374.7V380.4M379.9 376.8V382.9M380.6 376.1V384.6M381.2 383.4V394.8M381.9 388.2V395.0" stroke="#f7525f"/><path d="M382.5 383.8V395.5" stroke="#22ab94"/><path d="M383.2 392.6V401.2" stroke="#f7525f"/><path d="M383.9 395.2V398.8M384.5 397.9V399.7" stroke="#22ab94"/><path d="M385.2 392.9V401.2" stroke="#f7525f"/><path d="M385.8 392.7V401.2" stroke="#22ab94"/><path d="M386.5 395.5V401.2" stroke="#f7525f"/><path d="M387.2 397.5V401.2M387.8 388.6V399.0" stroke="#22ab94"/><path d="M388.5 388.8V401.2" stroke="#f7525f"/><path d="M389.2 394.1V395.1M389.8 388.4V398.6M390.5 386.3V392.7" stroke="#22ab94"/><path d="M391.1 386.3V390.1M391.8 387.3V393.6" stroke="#f7525f"/><path d="M392.5 386.3V395.5" stroke="#22ab94"/><path d="M393.1 388.1V402.0" stroke="#f7525f"/><path d="M393.8 392.5V400.7" stroke="#22ab94"/><path d="M394.5 391.2V399.4M395.1 394.9V401.5M395.8 396.3V400.1M396.4 399.2V404.4M397.1 401.3V406.8M397.8 404.7V413.1" stroke="#f7525f"/><path d="M398.4 403.0V411.6" stroke="#22ab94"/><path d="M399.1 406.1V413.3" stroke="#f7525f"/><path d="M399.7 406.1V410.4" stroke="#22ab94"/><path d="M400.4 406.1V416.2" stroke="#f7525f"/><path d="M401.1 410.1V419.4" stroke="#22ab94"/><path d="M401.7 407.6V423.0M402.4 421.0V428.5M403.1 422.8V434.6M403.7 429.0V440.5M404.4 436.6V447.2M405.0 442.0V458.6" stroke="#f7525f"/><path d="M405.7 455.4V467.3" stroke="#22ab94"/><path d="M406.4 456.3V460.8M407.0 458.0V460.2M407.7 459.4V466.7" stroke="#f7525f"/><path d="M408.4 461.8V465.7M409.0 459.7V465.1M409.7 453.6V460.4" stroke="#22ab94"/><path d="M410.3 453.8V456.1M411.0 452.4V456.8" stroke="#f7525f"/><path d="M411.7 451.0V458.2M412.3 448.5V453.7M413.0 445.1V451.1M413.6 446.7V448.0" stroke="#22ab94"/><path d="M414.3 446.8V448.3" stroke="#f7525f"/><path d="M415.0 443.1V447.4" stroke="#22ab94"/><path d="M415.6 443.8V446.5M416.3 442.3V451.9" stroke="#f7525f"/><path d="M417.0 444.4V450.9M417.6 437.6V448.9" stroke="#22ab94"/><path d="M418.3 436.0V443.5" stroke="#f7525f"/><path d="M418.9 437.4V441.6M419.6 439.0V440.4" stroke="#22ab94"/><path d="M420.3 437.6V442.7" stroke="#f7525f"/><path d="M420.9 436.0V444.3" stroke="#22ab94"/><path d="M421.6 436.0V442.0M422.2 439.0V445.0M422.9 439.9V445.0M423.6 442.3V452.8M424.2 448.5V456.8" stroke="#f7525f"/><path d="M424.9 452.1V459.2" stroke="#22ab94"/><path d="M425.6 453.2V464.8M426.2 459.3V469.4M426.9 465.8V477.2M427.5 471.2V480.3M428.2 477.9V486.4M428.9 485.3V488.2M429.5 487.6V489.2M430.2 487.5V503.1M430.9 492.8V496.1M431.5 494.1V498.9" stroke="#f7525f"/><path d="M432.2 489.6V496.4" stroke="#22ab94"/><path d="M432.8 491.6V494.6" stroke="#f7525f"/><path d="M433.5 490.7V494.9M434.2 487.2V492.9" stroke="#22ab94"/><path d="M434.8 490.1V491.7" stroke="#f7525f"/><path d="M435.5 491.5V493.0M436.1 489.8V492.3M436.8 484.6V490.2M437.5 488.5V489.5" stroke="#22ab94"/><path d="M438.1 487.9V494.9M438.8 492.3V497.5" stroke="#f7525f"/><path d="M439.5 490.6V497.2M440.1 488.2V494.3" stroke="#22ab94"/><path d="M440.8 488.1V490.2M441.4 488.4V491.6M442.1 490.5V493.4" stroke="#f7525f"/><path d="M442.8 487.4V493.2M443.4 484.2V491.4" stroke="#22ab94"/><path d="M444.1 489.5V490.7" stroke="#f7525f"/><path d="M444.7 487.5V490.1" stroke="#22ab94"/><path d="M445.4 486.1V491.1M446.1 485.7V495.6" stroke="#f7525f"/><path d="M446.7 488.2V491.2" stroke="#22ab94"/><path d="M447.4 488.1V490.0" stroke="#f7525f"/><path d="M448.1 484.5V491.9M448.7 484.9V487.2M449.4 485.0V486.0M450.0 482.3V485.6M450.7 480.5V482.9M451.4 474.2V481.8M452.0 476.8V481.8" stroke="#22ab94"/><path d="M452.7 475.2V480.8M453.4 479.7V483.4" stroke="#f7525f"/><path d="M454.0 477.3V483.7" stroke="#22ab94"/><path d="M454.7 478.3V486.7" stroke="#f7525f"/><path d="M455.3 478.8V488.0" stroke="#22ab94"/><path d="M456.0 476.5V481.9" stroke="#f7525f"/><path d="M456.7 476.4V482.5M457.3 472.9V481.2" stroke="#22ab94"/><path d="M458.0 476.6V482.3" stroke="#f7525f"/><path d="M458.6 473.1V484.2" stroke="#22ab94"/><path d="M459.3 475.3V480.2" stroke="#f7525f"/><path d="M460.0 476.5V481.4" stroke="#22ab94"/><path d="M460.6 475.2V482.0" stroke="#f7525f"/><path d="M461.3 477.2V481.7" stroke="#22ab94"/><path d="M462.0 475.6V481.3M462.6 478.1V483.2M463.3 478.3V483.2" stroke="#f7525f"/><path d="M463.9 475.7V483.2" stroke="#22ab94"/><path d="M464.6 475.7V477.0M465.3 476.5V477.8" stroke="#f7525f"/><path d="M465.9 472.7V477.7" stroke="#22ab94"/><path d="M466.6 472.2V476.4" stroke="#f7525f"/><path d="M467.3 470.8V477.7" stroke="#22ab94"/><path d="M467.9 470.5V476.9M468.6 470.4V478.6M469.2 473.5V479.1M469.9 478.8V480.6" stroke="#f7525f"/><path d="M470.6 477.0V479.8" stroke="#22ab94"/><path d="M471.2 477.7V486.0" stroke="#f7525f"/><path d="M471.9 481.2V488.0" stroke="#22ab94"/><path d="M472.5 482.0V488.4M473.2 486.5V491.3" stroke="#f7525f"/><path d="M473.9 490.3V492.2M474.5 489.2V492.3" stroke="#22ab94"/><path d="M475.2 487.7V493.7" stroke="#f7525f"/><path d="M475.9 492.2V494.4M476.5 489.4V494.6" stroke="#22ab94"/><path d="M477.2 489.3V493.1M477.8 492.5V497.7" stroke="#f7525f"/><path d="M478.5 493.4V497.5" stroke="#22ab94"/><path d="M479.2 492.8V496.2" stroke="#f7525f"/><path d="M479.8 493.6V498.5M480.5 492.6V497.4" stroke="#22ab94"/><path d="M481.1 493.4V497.3M481.8 494.3V499.8" stroke="#f7525f"/><path d="M482.5 495.7V499.3M483.1 495.3V498.3M483.8 489.9V499.3" stroke="#22ab94"/><path d="M484.5 490.4V495.0" stroke="#f7525f"/><path d="M485.1 490.6V495.4M485.8 490.6V492.6M486.4 488.0V492.2M487.1 481.7V491.4M487.8 483.7V487.4" stroke="#22ab94"/><path d="M488.4 485.9V488.8M489.1 487.5V492.2" stroke="#f7525f"/><path d="M489.8 485.7V492.3" stroke="#22ab94"/><path d="M490.4 486.2V492.6M491.1 491.3V495.0M491.7 492.7V498.1M492.4 495.1V500.7" stroke="#f7525f"/><path d="M493.1 496.2V500.6M493.7 494.4V499.9" stroke="#22ab94"/><path d="M494.4 497.6V500.2" stroke="#f7525f"/><path d="M495.0 496.7V499.5M495.7 494.4V499.2" stroke="#22ab94"/><path d="M496.4 493.9V499.3" stroke="#f7525f"/><path d="M497.0 494.6V500.0" stroke="#22ab94"/><path d="M497.7 493.6V498.1" stroke="#f7525f"/><path d="M498.4 490.5V498.5" stroke="#22ab94"/><path d="M499.0 491.7V496.3" stroke="#f7525f"/><path d="M499.7 490.3V498.4" stroke="#22ab94"/><path d="M500.3 490.3V494.7" stroke="#f7525f"/><path d="M501.0 490.3V495.9" stroke="#22ab94"/><path d="M501.7 490.3V497.0" stroke="#f7525f"/><path d="M502.3 491.4V496.2M503.0 491.2V493.1" stroke="#22ab94"/><path d="M503.7 490.3V494.7M504.3 491.4V496.9" stroke="#f7525f"/><path d="M505.0 493.5V496.3" stroke="#22ab94"/><path d="M505.6 493.7V497.5M506.3 496.0V498.4" stroke="#f7525f"/><path d="M507.0 497.8V499.9M507.6 491.9V498.6" stroke="#22ab94"/><path d="M508.3 493.1V500.6M508.9 497.6V499.6" stroke="#f7525f"/><path d="M509.6 496.8V500.7" stroke="#22ab94"/><path d="M510.3 498.4V500.1" stroke="#f7525f"/><path d="M510.9 494.9V500.5" stroke="#22ab94"/><path d="M511.6 495.3V502.1" stroke="#f7525f"/><path d="M512.3 493.2V501.9M512.9 492.1V497.5" stroke="#22ab94"/><path d="M513.6 493.2V496.8" stroke="#f7525f"/><path d="M514.2 492.2V496.6M514.9 490.9V494.6M515.6 489.7V492.0" stroke="#22ab94"/><path d="M516.2 489.7V492.0" stroke="#f7525f"/><path d="M516.9 490.7V492.0M517.5 485.9V490.9" stroke="#22ab94"/><path d="M518.2 485.9V490.1M518.9 487.0V490.3" stroke="#f7525f"/><path d="M519.5 488.1V491.4" stroke="#22ab94"/><path d="M520.2 488.6V491.5M520.9 488.9V491.0M521.5 488.5V491.4M522.2 487.4V495.7" stroke="#f7525f"/><path d="M522.8 493.6V495.8" stroke="#22ab94"/><path d="M523.5 493.8V498.5M524.2 497.0V502.7M524.8 500.8V505.9M525.5 504.6V513.2M526.2 507.0V512.6" stroke="#f7525f"/><path d="M526.8 509.0V512.9" stroke="#22ab94"/><path d="M527.5 510.7V514.7" stroke="#f7525f"/><path d="M528.1 512.5V514.7M528.8 511.5V514.0" stroke="#22ab94"/><path d="M529.5 510.4V513.6M530.1 512.0V514.7" stroke="#f7525f"/><path d="M530.8 513.9V514.9M531.4 512.3V514.4M532.1 511.7V513.0" stroke="#22ab94"/><path d="M532.8 509.3V513.2" stroke="#f7525f"/><path d="M533.4 511.2V514.7" stroke="#22ab94"/><path d="M534.1 511.4V512.7M534.8 511.1V514.7" stroke="#f7525f"/><path d="M535.4 510.1V514.7M536.1 510.6V512.0M536.7 506.2V511.5M537.4 507.1V508.9" stroke="#22ab94"/><path d="M538.1 506.9V508.4" stroke="#f7525f"/><path d="M538.7 505.4V509.3" stroke="#22ab94"/><path d="M539.4 506.5V512.2" stroke="#f7525f"/><path d="M540.1 505.4V511.5M540.7 504.7V506.6" stroke="#22ab94"/><path d="M541.4 503.4V508.4" stroke="#f7525f"/><path d="M542.0 505.0V508.4M542.7 503.1V507.5" stroke="#22ab94"/><path d="M543.4 502.8V506.8" stroke="#f7525f"/><path d="M544.0 502.8V507.2M544.7 501.7V505.1" stroke="#22ab94"/><path d="M545.3 501.7V504.3" stroke="#f7525f"/><path d="M546.0 503.7V505.2M546.7 502.1V506.3" stroke="#22ab94"/><path d="M547.3 501.9V505.5M548.0 501.9V505.7" stroke="#f7525f"/><path d="M548.7 502.3V506.1M549.3 500.7V503.8" stroke="#22ab94"/><path d="M550.0 501.0V502.5M550.6 501.7V508.3M551.3 506.0V509.1M552.0 506.9V509.3M552.6 508.7V509.9M553.3 509.1V510.1" stroke="#f7525f"/><path d="M553.9 506.6V510.9" stroke="#22ab94"/><path d="M554.6 507.4V510.9" stroke="#f7525f"/><path d="M555.3 505.6V510.3" stroke="#22ab94"/><path d="M555.9 506.7V510.7" stroke="#f7525f"/><path d="M556.6 506.9V510.9M557.3 507.0V510.1M557.9 508.2V509.6M558.6 507.6V508.7" stroke="#22ab94"/><path d="M559.2 507.0V509.7M559.9 508.1V510.9" stroke="#f7525f"/><path d="M560.6 506.8V510.9" stroke="#22ab94"/><path d="M561.2 505.9V510.3" stroke="#f7525f"/><path d="M561.9 506.4V510.4" stroke="#22ab94"/><path d="M562.6 507.2V508.7" stroke="#f7525f"/><path d="M563.2 505.0V510.0" stroke="#22ab94"/><path d="M563.9 505.7V507.7" stroke="#f7525f"/><path d="M564.5 505.3V507.6M565.2 503.2V506.2M565.9 501.5V505.6M566.5 499.3V503.7M567.2 497.6V500.9M567.8 497.3V498.6M568.5 496.6V498.9M569.2 490.1V498.3M569.8 488.0V491.3M570.5 488.2V491.2M571.2 485.0V489.0M571.8 480.9V486.6" stroke="#22ab94"/><path d="M572.5 481.1V484.3" stroke="#f7525f"/><path d="M573.1 478.7V485.1" stroke="#22ab94"/><path d="M573.8 479.1V483.5" stroke="#f7525f"/><path d="M574.5 481.1V483.3M575.1 478.2V482.8M575.8 473.9V480.2" stroke="#22ab94"/><path d="M576.4 473.9V480.0" stroke="#f7525f"/><path d="M577.1 475.8V480.7M577.8 473.9V479.8" stroke="#22ab94"/><path d="M578.4 473.9V480.7" stroke="#f7525f"/><path d="M579.1 476.3V480.7M579.8 475.7V477.1M580.4 474.8V476.2M581.1 473.9V478.3" stroke="#22ab94"/><path d="M581.7 473.9V478.3M582.4 475.9V486.5" stroke="#f7525f"/><path d="M583.1 476.1V484.8" stroke="#22ab94"/><path d="M583.7 477.1V481.6" stroke="#f7525f"/><path d="M584.4 477.1V482.6" stroke="#22ab94"/><path d="M585.1 479.1V481.6M585.7 477.2V482.6" stroke="#f7525f"/><path d="M586.4 481.0V482.0" stroke="#22ab94"/><path d="M587.0 478.0V484.6" stroke="#f7525f"/><path d="M587.7 480.6V486.7" stroke="#22ab94"/><path d="M588.4 480.6V483.1" stroke="#f7525f"/><path d="M589.0 477.3V484.9" stroke="#22ab94"/><path d="M589.7 477.0V482.1" stroke="#f7525f"/><path d="M590.3 476.6V480.7" stroke="#22ab94"/><path d="M591.0 476.3V480.0" stroke="#f7525f"/><path d="M591.7 469.7V478.3M592.3 471.4V475.0" stroke="#22ab94"/><path d="M593.0 470.2V478.3" stroke="#f7525f"/><path d="M593.7 473.5V478.7" stroke="#22ab94"/><path d="M594.3 473.5V478.4M595.0 475.3V480.1M595.6 475.0V482.2M596.3 478.2V480.4M597.0 479.0V484.0M597.6 482.1V484.9" stroke="#f7525f"/><path d="M598.3 482.1V485.3M599.0 482.6V483.8" stroke="#22ab94"/><path d="M599.6 482.6V487.5M600.3 484.5V488.9M600.9 488.3V489.3" stroke="#f7525f"/><path d="M601.6 485.8V489.9" stroke="#22ab94"/><path d="M602.3 483.8V490.9M602.9 490.2V494.8" stroke="#f7525f"/><path d="M603.6 489.6V491.2M604.2 488.1V490.5M604.9 484.2V493.5M605.6 485.4V489.2M606.2 483.6V486.5M606.9 476.0V486.7M607.6 469.0V478.5M608.2 468.0V477.0M608.9 467.8V474.8M609.5 459.8V471.0M610.2 458.3V462.2" stroke="#22ab94"/><path d="M610.9 460.9V462.3" stroke="#f7525f"/><path d="M611.5 455.0V462.2M612.2 457.7V461.8M612.8 453.0V462.6" stroke="#22ab94"/><path d="M613.5 454.0V460.9M614.2 458.6V461.8" stroke="#f7525f"/><path d="M614.8 453.4V461.2M615.5 453.5V456.6M616.2 454.3V458.0" stroke="#22ab94"/><path d="M616.8 453.0V460.5" stroke="#f7525f"/><path d="M617.5 456.0V460.4M618.1 453.9V459.5" stroke="#22ab94"/><path d="M618.8 453.8V460.4" stroke="#f7525f"/><path d="M619.5 458.7V461.0M620.1 456.9V459.0M620.8 454.1V460.6" stroke="#22ab94"/><path d="M621.5 449.9V457.0M622.1 452.7V459.1" stroke="#f7525f"/><path d="M622.8 449.0V457.7" stroke="#22ab94"/><path d="M623.4 447.4V455.1M624.1 452.3V454.2" stroke="#f7525f"/><path d="M624.8 451.1V454.2M625.4 445.9V449.8M626.1 442.4V448.0" stroke="#22ab94"/><path d="M626.7 443.1V447.7" stroke="#f7525f"/><path d="M627.4 444.1V451.8" stroke="#22ab94"/><path d="M628.1 443.2V450.4M628.7 449.9V452.8" stroke="#f7525f"/><path d="M629.4 446.2V452.5" stroke="#22ab94"/><path d="M630.1 446.0V448.9" stroke="#f7525f"/><path d="M630.7 446.8V450.3" stroke="#22ab94"/><path d="M631.4 444.5V458.0M632.0 455.0V462.3" stroke="#f7525f"/><path d="M632.7 452.1V462.4" stroke="#22ab94"/><path d="M633.4 454.8V457.2M634.0 454.3V460.9" stroke="#f7525f"/><path d="M634.7 457.2V462.0M635.4 447.2V458.6" stroke="#22ab94"/><path d="M636.0 451.4V453.3" stroke="#f7525f"/><path d="M636.7 450.0V453.6" stroke="#22ab94"/><path d="M637.3 448.9V459.2" stroke="#f7525f"/><path d="M638.0 448.0V460.6" stroke="#22ab94"/><path d="M638.7 448.3V456.6M639.3 448.8V457.1M640.0 453.9V456.8" stroke="#f7525f"/><path d="M640.6 456.1V458.1" stroke="#22ab94"/><path d="M641.3 452.4V458.8" stroke="#f7525f"/><path d="M642.0 450.5V459.8" stroke="#22ab94"/><path d="M642.6 452.6V457.0M643.3 456.1V457.7M644.0 455.4V460.4M644.6 456.1V466.7" stroke="#f7525f"/><path d="M645.3 460.9V466.7" stroke="#22ab94"/><path d="M645.9 462.2V464.8" stroke="#f7525f"/><path d="M646.6 463.5V465.2" stroke="#22ab94"/><path d="M647.3 463.3V466.7M647.9 466.0V467.0" stroke="#f7525f"/><path d="M648.6 462.3V466.7" stroke="#22ab94"/><path d="M649.2 461.8V466.7" stroke="#f7525f"/><path d="M649.9 461.3V466.7" stroke="#22ab94"/><path d="M650.6 462.9V466.7" stroke="#f7525f"/><path d="M651.2 462.2V466.7M651.9 458.8V462.6M652.6 458.6V460.9" stroke="#22ab94"/><path d="M653.2 457.4V461.3M653.9 457.4V461.3" stroke="#f7525f"/><path d="M654.5 456.2V460.8" stroke="#22ab94"/><path d="M655.2 456.8V460.3" stroke="#f7525f"/><path d="M655.9 455.2V459.8M656.5 455.6V458.8M657.2 455.9V458.1M657.9 455.9V456.9M658.5 455.2V458.8" stroke="#22ab94"/><path d="M659.2 455.2V459.5M659.8 455.2V460.3" stroke="#f7525f"/><path d="M660.5 457.5V461.0" stroke="#22ab94"/><path d="M661.2 459.3V460.3M661.8 459.3V462.5M662.5 461.1V464.5" stroke="#f7525f"/><path d="M663.1 463.0V464.6" stroke="#22ab94"/><path d="M663.8 460.9V466.5" stroke="#f7525f"/><path d="M664.5 459.8V466.7" stroke="#22ab94"/><path d="M665.1 463.2V465.7" stroke="#f7525f"/><path d="M665.8 464.0V465.1" stroke="#22ab94"/><path d="M666.5 464.7V467.9" stroke="#f7525f"/><path d="M667.1 465.4V466.8" stroke="#22ab94"/><path d="M667.8 466.2V470.9" stroke="#f7525f"/><path d="M668.4 465.5V466.5M669.1 459.6V469.4M669.8 463.2V465.3M670.4 460.7V465.6" stroke="#22ab94"/><path d="M671.1 459.5V464.5" stroke="#f7525f"/><path d="M671.7 456.0V463.1M672.4 450.1V456.7M673.1 451.0V453.8M673.7 445.6V455.1M674.4 439.6V447.4" stroke="#22ab94"/><path d="M675.1 439.7V445.6" stroke="#f7525f"/><path d="M675.7 439.5V447.7M676.4 438.8V439.8" stroke="#22ab94"/><path d="M677.0 439.4V442.4M677.7 440.3V442.6" stroke="#f7525f"/><path d="M678.4 439.2V442.6" stroke="#22ab94"/><path d="M679.0 439.2V441.7M679.7 439.1V442.6" stroke="#f7525f"/><path d="M680.4 439.0V442.6" stroke="#22ab94"/><path d="M681.0 438.2V441.7" stroke="#f7525f"/><path d="M681.7 438.2V440.0" stroke="#22ab94"/><path d="M682.3 438.2V441.8" stroke="#f7525f"/><path d="M683.0 438.2V440.4" stroke="#22ab94"/><path d="M683.7 438.2V441.6" stroke="#f7525f"/><path d="M684.3 438.5V441.6" stroke="#22ab94"/><path d="M685.0 438.4V441.3" stroke="#f7525f"/><path d="M685.6 438.3V441.4M686.3 438.2V441.4" stroke="#22ab94"/><path d="M687.0 438.2V440.2" stroke="#f7525f"/><path d="M687.6 438.2V440.0" stroke="#22ab94"/><path d="M688.3 438.2V441.0" stroke="#f7525f"/><path d="M689.0 439.0V442.6" stroke="#22ab94"/><path d="M689.6 438.3V442.4M690.3 438.2V442.7M690.9 440.6V446.2M691.6 443.0V446.6" stroke="#f7525f"/><path d="M692.3 439.6V449.0" stroke="#22ab94"/><path d="M692.9 440.6V446.2M693.6 445.3V452.5" stroke="#f7525f"/><path d="M694.3 444.9V452.5M694.9 446.4V452.5" stroke="#22ab94"/><path d="M695.6 447.2V450.0M696.2 447.9V449.8M696.9 448.7V452.5" stroke="#f7525f"/><path d="M697.6 450.1V452.5" stroke="#22ab94"/><path d="M698.2 449.4V452.5M698.9 449.9V452.5" stroke="#f7525f"/><path d="M699.5 449.3V452.5" stroke="#22ab94"/><path d="M700.2 449.2V450.8" stroke="#f7525f"/><path d="M700.9 448.8V449.8" stroke="#22ab94"/><path d="M701.5 447.9V449.0M702.2 448.1V452.5" stroke="#f7525f"/><path d="M702.9 449.1V452.5" stroke="#22ab94"/><path d="M703.5 450.3V452.5" stroke="#f7525f"/><path d="M704.2 448.1V452.5" stroke="#22ab94"/><path d="M704.8 448.1V450.1M705.5 448.1V454.0" stroke="#f7525f"/><path d="M706.2 451.1V453.9M706.8 451.6V452.6" stroke="#22ab94"/><path d="M707.5 449.9V454.6" stroke="#f7525f"/><path d="M708.1 451.9V456.7" stroke="#22ab94"/><path d="M708.8 449.6V457.1M709.5 453.0V459.3M710.1 452.8V460.1" stroke="#f7525f"/><path d="M710.8 456.6V462.5" stroke="#22ab94"/><path d="M711.5 458.2V464.4M712.1 461.5V468.0" stroke="#f7525f"/><path d="M712.8 459.8V468.3" stroke="#22ab94"/><path d="M713.4 461.0V464.9M714.1 462.2V467.1" stroke="#f7525f"/><path d="M714.8 460.4V467.1M715.4 460.9V463.9" stroke="#22ab94"/><path d="M716.1 462.4V467.2" stroke="#f7525f"/><path d="M716.8 459.7V467.5M717.4 459.1V462.8" stroke="#22ab94"/><path d="M718.1 459.5V463.2M718.7 458.1V466.6" stroke="#f7525f"/><path d="M719.4 457.1V460.3" stroke="#22ab94"/><path d="M720.1 456.6V460.5M720.7 456.9V461.9" stroke="#f7525f"/><path d="M721.4 458.7V462.4" stroke="#22ab94"/><path d="M722.0 457.9V468.6" stroke="#f7525f"/><path d="M722.7 462.2V468.3M723.4 462.8V467.7" stroke="#22ab94"/><path d="M724.0 461.7V468.3" stroke="#f7525f"/><path d="M724.7 463.2V466.0" stroke="#22ab94"/><path d="M725.4 463.5V467.1M726.0 466.1V468.4M726.7 466.8V470.9" stroke="#f7525f"/><path d="M727.3 462.4V470.9" stroke="#22ab94"/><path d="M728.0 462.1V468.9M728.7 467.4V470.9" stroke="#f7525f"/><path d="M729.3 467.7V469.8" stroke="#22ab94"/><path d="M730.0 465.4V470.9" stroke="#f7525f"/><path d="M730.7 463.9V470.1M731.3 461.4V466.3M732.0 459.4V464.1M732.6 459.4V464.3" stroke="#22ab94"/><path d="M733.3 456.4V467.4" stroke="#f7525f"/><path d="M734.0 453.7V466.1" stroke="#22ab94"/><path d="M734.6 457.0V460.5" stroke="#f7525f"/><path d="M735.3 456.6V459.9M735.9 456.4V459.1M736.6 453.7V459.7" stroke="#22ab94"/><path d="M737.3 453.7V458.8M737.9 454.0V457.6" stroke="#f7525f"/><path d="M738.6 455.1V460.8" stroke="#22ab94"/><path d="M739.3 455.5V461.2" stroke="#f7525f"/><path d="M739.9 453.7V462.2M740.6 453.7V457.1" stroke="#22ab94"/><path d="M741.2 453.7V457.7M741.9 455.5V459.7" stroke="#f7525f"/><path d="M742.6 454.5V461.0M743.2 453.7V455.5" stroke="#22ab94"/><path d="M743.9 453.7V458.0M744.5 455.7V463.8M745.2 459.8V463.8" stroke="#f7525f"/><path d="M745.9 457.3V463.7" stroke="#22ab94"/><path d="M746.5 456.5V461.6M747.2 459.6V463.3M747.9 461.5V463.8" stroke="#f7525f"/><path d="M748.5 460.7V463.8M749.2 452.7V457.4" stroke="#22ab94"/><path d="M749.8 453.4V459.8" stroke="#f7525f"/><path d="M750.5 457.1V459.2M751.2 448.9V458.7M751.8 441.2V452.5" stroke="#22ab94"/><path d="M752.5 440.6V442.8" stroke="#f7525f"/><path d="M753.2 436.1V444.0M753.8 434.2V439.0M754.5 427.3V436.4M755.1 425.9V431.5M755.8 424.1V425.6" stroke="#22ab94"/><path d="M756.5 425.5V426.5" stroke="#f7525f"/><path d="M757.1 422.2V425.6M757.8 421.0V425.6M758.4 420.6V424.7M759.1 419.7V424.7" stroke="#22ab94"/><path d="M759.8 419.7V421.6M760.4 417.2V425.6" stroke="#f7525f"/><path d="M761.1 417.2V425.6" stroke="#22ab94"/><path d="M761.8 422.8V425.6" stroke="#f7525f"/><path d="M762.4 419.8V425.6M763.1 417.3V422.7M763.7 411.9V418.8" stroke="#22ab94"/><path d="M764.4 409.8V417.8" stroke="#f7525f"/><path d="M765.1 409.8V417.4" stroke="#22ab94"/><path d="M765.7 409.8V420.9" stroke="#f7525f"/><path d="M766.4 409.8V420.4" stroke="#22ab94"/><path d="M767.0 409.8V415.9" stroke="#f7525f"/><path d="M767.7 409.7V413.3" stroke="#22ab94"/><path d="M768.4 409.6V413.0" stroke="#f7525f"/><path d="M769.0 409.4V411.5" stroke="#22ab94"/><path d="M769.7 409.3V412.8" stroke="#f7525f"/><path d="M770.4 410.2V412.8M771.0 409.1V411.9M771.7 408.9V412.8" stroke="#22ab94"/><path d="M772.3 408.8V412.8" stroke="#f7525f"/><path d="M773.0 407.4V412.8M773.7 407.4V411.3" stroke="#22ab94"/><path d="M774.3 407.4V411.4" stroke="#f7525f"/><path d="M775.0 407.4V411.3" stroke="#22ab94"/><path d="M775.7 407.4V411.2" stroke="#f7525f"/><path d="M776.3 407.4V411.1M777.0 407.4V410.9" stroke="#22ab94"/><path d="M777.6 407.4V408.7" stroke="#f7525f"/><path d="M778.3 399.7V410.7" stroke="#22ab94"/><path d="M779.0 397.2V410.6" stroke="#f7525f"/><path d="M779.6 405.9V410.5M780.3 396.6V410.4" stroke="#22ab94"/><path d="M780.9 397.1V404.3M781.6 401.7V403.8" stroke="#f7525f"/><path d="M782.3 394.6V405.6" stroke="#22ab94"/><path d="M782.9 395.2V398.9" stroke="#f7525f"/><path d="M783.6 387.7V399.6M784.3 385.9V390.7M784.9 379.6V389.0" stroke="#22ab94"/><path d="M785.6 379.6V386.4" stroke="#f7525f"/><path d="M786.2 379.8V383.7" stroke="#22ab94"/><path d="M786.9 379.6V389.4M787.6 383.1V390.7M788.2 384.4V393.4M788.9 386.8V398.5" stroke="#f7525f"/><path d="M789.6 392.0V398.5M790.2 387.6V396.9" stroke="#22ab94"/><path d="M790.9 388.2V398.5" stroke="#f7525f"/><path d="M791.5 389.5V398.5" stroke="#22ab94"/><path d="M792.2 386.2V397.5" stroke="#f7525f"/><path d="M792.9 395.6V397.5M793.5 388.8V397.6M794.2 382.4V397.2" stroke="#22ab94"/><path d="M794.8 382.6V386.4M795.5 384.3V388.1" stroke="#f7525f"/><path d="M796.2 384.1V388.5" stroke="#22ab94"/><path d="M796.8 381.6V393.6M797.5 388.3V393.2M798.2 387.5V394.5" stroke="#f7525f"/><path d="M798.8 387.6V392.1M799.5 382.9V393.0M800.1 385.2V389.2" stroke="#22ab94"/><path d="M800.8 383.7V387.9M801.5 383.4V391.2" stroke="#f7525f"/><path d="M802.1 386.9V391.5M802.8 383.8V389.3M803.4 377.6V389.5M804.1 378.0V380.4M804.8 371.1V382.9" stroke="#22ab94"/><path d="M805.4 373.3V379.2" stroke="#f7525f"/><path d="M806.1 375.5V379.9M806.8 368.4V377.7" stroke="#22ab94"/><path d="M807.4 361.2V384.3M808.1 377.9V381.6M808.7 380.4V393.0M809.4 379.1V389.0M810.1 385.9V391.8M810.7 388.2V397.5" stroke="#f7525f"/><path d="M811.4 388.3V399.1" stroke="#22ab94"/><path d="M812.1 391.9V402.7M812.7 398.0V403.4" stroke="#f7525f"/><path d="M813.4 395.6V402.3M814.0 394.9V401.2" stroke="#22ab94"/><path d="M814.7 395.8V407.0M815.4 402.2V407.4" stroke="#f7525f"/><path d="M816.0 404.2V407.4" stroke="#22ab94"/><path d="M816.7 397.6V408.4" stroke="#f7525f"/><path d="M817.3 399.5V407.9M818.0 398.5V402.1" stroke="#22ab94"/><path d="M818.7 396.3V403.3" stroke="#f7525f"/><path d="M819.3 396.5V405.8M820.0 391.4V398.4" stroke="#22ab94"/><path d="M820.7 394.8V408.2" stroke="#f7525f"/><path d="M821.3 394.3V408.4M822.0 387.2V398.3M822.6 382.0V392.4" stroke="#22ab94"/><path d="M823.3 382.0V386.2M824.0 383.5V386.6" stroke="#f7525f"/><path d="M824.6 376.8V386.6M825.3 375.4V379.6M826.0 363.9V378.3" stroke="#22ab94"/><path d="M826.6 363.1V378.2" stroke="#f7525f"/><path d="M827.3 365.4V375.2" stroke="#22ab94"/><path d="M827.9 365.0V373.6" stroke="#f7525f"/><path d="M828.6 365.2V370.0M829.3 358.3V370.8" stroke="#22ab94"/><path d="M829.9 359.0V362.0" stroke="#f7525f"/><path d="M830.6 353.8V369.6M831.2 349.8V359.1M831.9 347.8V357.2M832.6 343.3V349.2" stroke="#22ab94"/><path d="M833.2 343.4V352.5" stroke="#f7525f"/><path d="M833.9 348.6V353.0M834.6 335.1V350.3" stroke="#22ab94"/><path d="M835.2 339.1V356.4" stroke="#f7525f"/><path d="M835.9 341.8V350.8M836.5 333.9V342.8" stroke="#22ab94"/><path d="M837.2 335.5V349.3" stroke="#f7525f"/><path d="M837.9 325.3V349.0" stroke="#22ab94"/><path d="M838.5 327.3V338.7" stroke="#f7525f"/><path d="M839.2 320.2V338.0M839.8 316.5V327.1M840.5 304.8V329.3M841.2 296.0V312.9M841.8 290.5V307.0M842.5 291.3V297.5M843.2 291.1V298.6" stroke="#22ab94"/><path d="M843.8 267.8V300.4" stroke="#f7525f"/><path d="M844.5 282.5V311.5" stroke="#22ab94"/><path d="M845.1 283.3V292.2M845.8 288.0V295.8" stroke="#f7525f"/><path d="M846.5 272.5V294.3M847.1 276.0V286.9M847.8 266.4V285.5M848.5 258.5V269.1" stroke="#22ab94"/><path d="M849.1 255.6V267.6" stroke="#f7525f"/><path d="M849.8 245.9V270.8M850.4 257.8V264.0" stroke="#22ab94"/><path d="M851.1 256.1V270.3M851.8 263.3V279.9M852.4 272.2V281.2M853.1 280.2V288.3" stroke="#f7525f"/><path d="M853.7 271.2V289.9" stroke="#22ab94"/><path d="M854.4 276.0V304.8" stroke="#f7525f"/><path d="M855.1 277.8V295.7M855.7 275.2V295.1M856.4 275.8V282.7M857.1 274.8V283.9M857.7 270.7V280.7M858.4 254.3V276.1M859.0 255.7V266.0M859.7 253.7V271.1" stroke="#22ab94"/><path d="M860.4 253.4V258.5" stroke="#f7525f"/><path d="M861.0 250.4V259.2M861.7 250.4V257.3" stroke="#22ab94"/><path d="M862.4 250.4V257.3M863.0 255.2V257.3" stroke="#f7525f"/><path d="M863.7 253.8V257.3M864.3 250.4V257.3" stroke="#22ab94"/><path d="M865.0 250.4V257.3" stroke="#f7525f"/><path d="M865.7 250.4V272.9" stroke="#22ab94"/><path d="M866.3 250.4V256.1" stroke="#f7525f"/><path d="M867.0 253.4V260.9" stroke="#22ab94"/><path d="M867.6 251.9V266.9M868.3 256.4V276.5M869.0 262.6V276.5M869.6 271.6V282.7M870.3 276.3V287.9M871.0 279.1V290.3M871.6 285.4V300.1" stroke="#f7525f"/><path d="M872.3 293.4V309.5" stroke="#22ab94"/><path d="M872.9 293.0V305.3" stroke="#f7525f"/><path d="M873.6 290.9V302.4M874.3 287.7V298.8M874.9 282.1V297.3M875.6 276.2V292.3" stroke="#22ab94"/><path d="M876.2 276.2V292.0M876.9 288.1V291.4" stroke="#f7525f"/><path d="M877.6 277.7V294.6" stroke="#22ab94"/><path d="M878.2 284.6V301.5" stroke="#f7525f"/><path d="M878.9 286.2V301.8" stroke="#22ab94"/><path d="M879.6 286.2V308.3M880.2 297.2V310.4" stroke="#f7525f"/><path d="M880.9 300.0V317.0" stroke="#22ab94"/><path d="M881.5 300.4V315.5M882.2 306.0V323.6" stroke="#f7525f"/><path d="M882.9 308.0V322.5" stroke="#22ab94"/><path d="M883.5 314.1V318.9M884.2 316.6V324.8" stroke="#f7525f"/><path d="M884.9 312.2V322.7M885.5 304.0V315.1" stroke="#22ab94"/><path d="M886.2 304.0V309.2M886.8 304.0V312.7" stroke="#f7525f"/><path d="M887.5 301.9V313.3M888.2 286.8V301.6M888.8 277.0V302.6" stroke="#22ab94"/><path d="M889.5 277.6V294.9M890.1 290.2V297.6" stroke="#f7525f"/><path d="M890.8 262.2V295.4M891.5 261.0V281.3" stroke="#22ab94"/><path d="M892.1 262.5V276.3" stroke="#f7525f"/><path d="M892.8 264.2V278.4M893.5 256.4V272.9M894.1 261.2V264.6M894.8 254.8V264.5" stroke="#22ab94"/><path d="M895.4 255.9V265.3M896.1 261.2V267.9" stroke="#f7525f"/><path d="M896.8 262.9V273.5M897.4 261.1V265.5" stroke="#22ab94"/><path d="M898.1 259.2V278.1" stroke="#f7525f"/><path d="M898.7 264.2V275.9" stroke="#22ab94"/><path d="M899.4 267.5V278.1" stroke="#f7525f"/><path d="M900.1 265.8V275.2" stroke="#22ab94"/><path d="M900.7 260.4V278.1" stroke="#f7525f"/><path d="M901.4 274.3V278.1" stroke="#22ab94"/><path d="M902.1 273.4V278.1" stroke="#f7525f"/><path d="M902.7 262.1V278.1" stroke="#22ab94"/><path d="M903.4 264.9V271.1" stroke="#f7525f"/><path d="M904.0 259.5V278.1" stroke="#22ab94"/><path d="M904.7 254.9V278.1" stroke="#f7525f"/><path d="M905.4 256.4V275.1" stroke="#22ab94"/><path d="M906.0 255.2V271.7" stroke="#f7525f"/><path d="M906.7 255.3V270.5M907.4 253.7V266.3" stroke="#22ab94"/><path d="M908.0 253.7V267.4M908.7 262.1V271.2" stroke="#f7525f"/><path d="M909.3 258.6V268.8" stroke="#22ab94"/><path d="M910.0 263.7V275.6M910.7 268.6V280.1" stroke="#f7525f"/><path d="M911.3 274.0V280.6" stroke="#22ab94"/><path d="M912.0 278.7V297.5" stroke="#f7525f"/><path d="M912.6 282.3V290.0M913.3 282.2V290.8" stroke="#22ab94"/><path d="M914.0 282.2V288.4M914.6 285.5V298.8M915.3 290.5V307.9M916.0 298.9V310.5" stroke="#f7525f"/><path d="M916.6 300.2V308.3" stroke="#22ab94"/><path d="M917.3 300.7V316.4" stroke="#f7525f"/><path d="M917.9 300.8V314.8" stroke="#22ab94"/><path d="M918.6 302.1V307.0M919.3 303.9V327.0" stroke="#f7525f"/><path d="M919.9 304.5V318.8" stroke="#22ab94"/><path d="M920.6 302.0V310.5" stroke="#f7525f"/><path d="M921.3 291.1V312.5" stroke="#22ab94"/><path d="M921.9 292.3V299.0M922.6 298.0V309.8M923.2 305.7V325.1M923.9 316.2V327.8" stroke="#f7525f"/><path d="M924.6 313.1V337.1" stroke="#22ab94"/><path d="M925.2 315.4V323.6M925.9 310.1V323.1" stroke="#f7525f"/><path d="M926.5 316.1V323.8" stroke="#22ab94"/><path d="M927.2 319.1V324.9" stroke="#f7525f"/><path d="M927.9 312.9V325.1" stroke="#22ab94"/><path d="M928.5 310.6V327.5" stroke="#f7525f"/><path d="M929.2 310.8V325.0M929.9 295.6V317.0" stroke="#22ab94"/><path d="M930.5 291.2V304.1" stroke="#f7525f"/><path d="M931.2 290.9V304.5" stroke="#22ab94"/><path d="M931.8 295.2V297.1" stroke="#f7525f"/><path d="M932.5 290.5V297.4M933.2 281.8V297.8" stroke="#22ab94"/><path d="M933.8 277.4V286.2" stroke="#f7525f"/><path d="M934.5 269.3V290.8M935.1 271.2V287.7M935.8 271.1V272.7" stroke="#22ab94"/><path d="M936.5 272.5V274.8" stroke="#f7525f"/><path d="M937.1 262.8V281.9M937.8 262.6V267.2" stroke="#22ab94"/><path d="M938.5 262.6V281.2" stroke="#f7525f"/><path d="M939.1 263.3V279.2M939.8 262.6V274.1" stroke="#22ab94"/><path d="M940.4 262.6V279.7" stroke="#f7525f"/><path d="M941.1 266.5V275.8" stroke="#22ab94"/><path d="M941.8 266.4V288.6M942.4 282.6V290.3M943.1 281.2V301.8M943.8 299.7V308.0M944.4 296.5V316.2M945.1 312.7V358.5" stroke="#f7525f"/><path d="M945.7 324.7V329.2M946.4 318.4V326.4" stroke="#22ab94"/><path d="M947.1 321.4V337.2" stroke="#f7525f"/><path d="M947.7 312.5V334.0" stroke="#22ab94"/><path d="M948.4 315.0V328.5" stroke="#f7525f"/><path d="M949.0 299.7V330.8M949.7 294.1V307.3" stroke="#22ab94"/><path d="M950.4 295.2V309.3" stroke="#f7525f"/><path d="M951.0 288.2V312.7" stroke="#22ab94"/><path d="M951.7 288.2V312.0M952.4 299.4V301.2" stroke="#f7525f"/><path d="M953.0 285.9V301.2" stroke="#22ab94"/><path d="M953.7 285.8V301.2" stroke="#f7525f"/><path d="M954.3 285.8V294.7" stroke="#22ab94"/><path d="M955.0 285.8V297.3" stroke="#f7525f"/><path d="M955.7 287.6V300.5M956.3 285.8V299.4" stroke="#22ab94"/><path d="M957.0 285.8V299.1M957.7 287.3V297.5" stroke="#f7525f"/><path d="M958.3 291.5V299.9" stroke="#22ab94"/><path d="M959.0 290.1V302.4" stroke="#f7525f"/><path d="M959.6 296.1V306.5" stroke="#22ab94"/><path d="M960.3 294.2V309.8M961.0 304.9V319.7M961.6 309.9V315.9M962.3 307.9V325.4M962.9 323.6V328.3M963.6 322.9V332.7M964.3 323.4V333.4" stroke="#f7525f"/><path d="M964.9 332.4V334.5M965.6 328.4V338.6" stroke="#22ab94"/><path d="M966.3 327.9V343.1M966.9 336.3V344.0" stroke="#f7525f"/><path d="M967.6 332.1V344.0M968.2 329.6V334.6M968.9 325.9V334.0" stroke="#22ab94"/><path d="M969.6 327.8V335.4" stroke="#f7525f"/><path d="M970.2 318.8V331.1M970.9 306.2V322.4M971.5 304.8V313.7M972.2 299.8V312.7M972.9 298.2V315.2M973.5 298.2V313.0M974.2 294.8V300.6" stroke="#22ab94"/><path d="M974.9 292.8V301.2" stroke="#f7525f"/><path d="M975.5 298.6V301.2M976.2 282.7V301.2" stroke="#22ab94"/><path d="M976.8 280.8V293.6M977.5 281.9V291.2" stroke="#f7525f"/><path d="M978.2 284.5V287.6M978.8 278.6V293.0" stroke="#22ab94"/><path d="M979.5 278.6V291.2" stroke="#f7525f"/><path d="M980.2 278.6V295.7" stroke="#22ab94"/><path d="M980.8 278.6V293.8M981.5 288.0V297.5" stroke="#f7525f"/><path d="M982.1 292.8V302.3" stroke="#22ab94"/><path d="M982.8 292.0V305.2M983.5 293.4V308.6M984.1 296.4V307.6" stroke="#f7525f"/><path d="M984.8 297.0V312.9" stroke="#22ab94"/><path d="M985.4 293.8V313.3M986.1 300.6V315.5" stroke="#f7525f"/><path d="M986.8 310.6V314.7M987.4 304.0V312.3M988.1 307.1V311.6M988.8 303.8V314.0M989.4 300.8V308.3" stroke="#22ab94"/><path d="M990.1 300.8V315.5" stroke="#f7525f"/><path d="M990.7 292.6V315.5" stroke="#22ab94"/><path d="M991.4 290.7V310.8" stroke="#f7525f"/><path d="M992.1 286.2V303.9M992.7 280.1V296.7M993.4 279.3V287.9M994.0 272.4V283.4" stroke="#22ab94"/><path d="M994.7 270.2V288.8" stroke="#f7525f"/><path d="M995.4 266.6V286.2M996.0 263.5V269.2M996.7 253.0V268.4M997.4 259.5V263.4M998.0 251.7V263.9" stroke="#22ab94"/><path d="M998.7 251.8V258.6" stroke="#f7525f"/><path d="M999.3 246.6V258.2" stroke="#22ab94"/><path d="M1000.0 250.4V261.6" stroke="#f7525f"/><path d="M1000.7 255.3V258.2M1001.3 246.6V260.8" stroke="#22ab94"/><path d="M1002.0 246.6V257.0M1002.7 251.2V265.7" stroke="#f7525f"/><path d="M1003.3 252.3V267.3" stroke="#22ab94"/><path d="M1004.0 252.1V258.6M1004.6 255.8V278.1" stroke="#f7525f"/><path d="M1005.3 260.0V271.5M1006.0 256.8V276.6M1006.6 249.7V262.1" stroke="#22ab94"/><path d="M1007.3 249.0V257.2" stroke="#f7525f"/><path d="M1007.9 238.9V262.5M1008.6 233.5V248.3M1009.3 215.7V237.4M1009.9 209.2V226.3M1010.6 185.4V219.0M1011.3 174.0V197.7M1011.9 157.5V180.2M1012.6 158.7V181.1M1013.2 151.8V173.6M1013.9 135.3V158.8M1014.6 139.1V152.4M1015.2 133.2V147.2M1015.9 134.4V139.3" stroke="#22ab94"/><path d="M1016.6 130.0V146.2M1017.2 127.6V159.0" stroke="#f7525f"/><path d="M1017.9 140.2V156.6" stroke="#22ab94"/><path d="M1018.5 140.4V164.8M1019.2 145.4V164.6" stroke="#f7525f"/><path d="M1019.9 152.0V167.4" stroke="#22ab94"/><path d="M1020.5 143.0V157.9" stroke="#f7525f"/><path d="M1021.2 139.4V157.2" stroke="#22ab94"/><path d="M1021.8 139.4V154.4" stroke="#f7525f"/><path d="M1022.5 137.4V159.5M1023.2 106.3V144.0" stroke="#22ab94"/><path d="M1023.8 106.3V136.0" stroke="#f7525f"/><path d="M1024.5 121.9V142.3" stroke="#22ab94"/><path d="M1025.2 124.8V144.6" stroke="#f7525f"/><path d="M1025.8 106.3V146.6" stroke="#22ab94"/><path d="M1026.5 106.3V136.6M1027.1 121.8V139.9" stroke="#f7525f"/><path d="M1027.8 119.5V137.2" stroke="#22ab94"/><path d="M1028.5 120.2V144.0" stroke="#f7525f"/><path d="M1029.1 127.9V151.5M1029.8 113.7V136.0M1030.4 117.3V127.1" stroke="#22ab94"/><path d="M1031.1 107.6V127.1M1031.8 111.6V139.3" stroke="#f7525f"/><path d="M1032.4 131.4V143.1M1033.1 86.4V141.1" stroke="#22ab94"/><path d="M1033.8 87.9V112.2M1034.4 97.7V137.0" stroke="#f7525f"/><path d="M1035.1 126.2V143.2" stroke="#22ab94"/><path d="M1035.7 125.5V159.5M1036.4 122.1V148.8M1037.1 131.4V146.3M1037.7 143.6V148.0" stroke="#f7525f"/><path d="M1038.4 140.4V153.5M1039.1 117.8V146.6" stroke="#22ab94"/><path d="M1039.7 124.8V159.8" stroke="#f7525f"/><path d="M1040.4 131.6V164.1" stroke="#22ab94"/><path d="M1041.0 127.6V155.1" stroke="#f7525f"/><path d="M1041.7 148.5V158.0M1042.4 144.2V158.7" stroke="#22ab94"/><path d="M1043.0 137.7V163.5" stroke="#f7525f"/><path d="M1043.7 139.4V156.8M1044.3 122.7V148.4" stroke="#22ab94"/><path d="M1045.0 129.4V146.3M1045.7 129.8V150.4" stroke="#f7525f"/><path d="M1046.3 116.4V140.1M1047.0 115.7V122.3" stroke="#22ab94"/><path d="M1047.7 113.7V145.7M1048.3 137.4V142.2" stroke="#f7525f"/><path d="M1049.0 123.7V145.7" stroke="#22ab94"/><path d="M1049.6 114.4V152.8M1050.3 140.9V153.5M1051.0 146.2V170.4" stroke="#f7525f"/><path d="M1051.6 146.4V175.4M1052.3 145.9V150.8M1053.0 127.9V152.6M1053.6 132.4V141.7M1054.3 126.1V148.3M1054.9 107.8V131.2M1055.6 107.1V116.3M1056.3 92.1V110.8" stroke="#22ab94"/><path d="M1056.9 82.9V110.6" stroke="#f7525f"/><path d="M1057.6 92.2V112.6M1058.2 81.4V94.9" stroke="#22ab94"/><path d="M1058.9 86.4V101.2M1059.6 91.9V120.1" stroke="#f7525f"/><path d="M1060.2 98.9V115.7" stroke="#22ab94"/><path d="M1060.9 99.9V125.8M1061.6 99.8V129.1" stroke="#f7525f"/><path d="M1062.2 96.7V125.3" stroke="#22ab94"/><path d="M1062.9 103.7V135.0M1063.5 115.0V137.4M1064.2 123.4V145.6" stroke="#f7525f"/><path d="M1064.9 120.1V135.1" stroke="#22ab94"/><path d="M1065.5 123.6V146.5" stroke="#f7525f"/><path d="M1066.2 126.9V165.4" stroke="#22ab94"/><path d="M1066.8 120.8V142.0" stroke="#f7525f"/><path d="M1067.5 139.7V144.3" stroke="#22ab94"/><path d="M1068.2 126.9V148.7" stroke="#f7525f"/><path d="M1068.8 136.0V159.0M1069.5 129.9V145.2" stroke="#22ab94"/><path d="M1070.2 130.8V147.2M1070.8 142.0V149.4" stroke="#f7525f"/><path d="M1071.5 137.8V147.9M1072.1 125.4V148.5" stroke="#22ab94"/><path d="M1072.8 130.2V149.4" stroke="#f7525f"/><path d="M1073.5 125.4V146.7" stroke="#22ab94"/><path d="M1074.1 125.4V136.9M1074.8 129.7V146.0M1075.5 140.5V167.0" stroke="#f7525f"/><path d="M1076.1 128.0V167.8" stroke="#22ab94"/><path d="M1076.8 129.7V162.6M1077.4 128.5V161.5" stroke="#f7525f"/><path d="M1078.1 154.0V161.7M1078.8 131.0V166.2" stroke="#22ab94"/><path d="M1079.4 132.5V170.1" stroke="#f7525f"/><path d="M1080.1 153.7V171.3" stroke="#22ab94"/><path d="M1080.7 159.6V182.2" stroke="#f7525f"/><path d="M1081.4 169.5V177.9M1082.1 164.7V224.0" stroke="#22ab94"/><path d="M1082.7 160.3V175.3M1083.4 150.3V187.2" stroke="#f7525f"/><path d="M1084.1 171.9V197.4M1084.7 163.2V183.9" stroke="#22ab94"/><path d="M1085.4 152.5V168.7M1086.0 167.0V178.2M1086.7 162.0V187.4M1087.4 181.1V194.2M1088.0 175.9V189.1M1088.7 182.4V198.1M1089.3 181.9V230.7M1090.0 194.5V202.8" stroke="#f7525f"/><path d="M1090.7 192.7V211.7" stroke="#22ab94"/><path d="M1091.3 197.0V199.4M1092.0 193.4V228.0" stroke="#f7525f"/><path d="M1092.7 194.0V215.7M1093.3 189.1V203.8" stroke="#22ab94"/><path d="M1094.0 190.2V211.5M1094.6 198.3V219.4" stroke="#f7525f"/><path d="M1095.3 205.6V209.2M1096.0 177.3V207.0M1096.6 184.0V196.0" stroke="#22ab94"/><path d="M1097.3 177.3V189.6" stroke="#f7525f"/><path d="M1098.0 177.3V187.4" stroke="#22ab94"/><path d="M1098.6 178.8V190.6M1099.3 183.6V195.3" stroke="#f7525f"/><path d="M1099.9 177.3V202.0" stroke="#22ab94"/><path d="M1100.6 184.2V198.2M1101.3 181.9V201.7M1101.9 184.5V207.3" stroke="#f7525f"/><path d="M1102.6 183.1V194.2" stroke="#22ab94"/><path d="M1103.2 186.5V188.9" stroke="#f7525f"/><path d="M1103.9 186.7V200.1" stroke="#22ab94"/><path d="M1104.6 178.8V193.0M1105.2 190.5V202.9" stroke="#f7525f"/><path d="M1105.9 191.0V202.8M1106.6 184.9V209.0" stroke="#22ab94"/><path d="M1107.2 184.2V221.5" stroke="#f7525f"/><path d="M1107.9 212.6V226.6M1108.5 209.6V241.6" stroke="#22ab94"/><path d="M1109.2 203.0V216.7" stroke="#f7525f"/><path d="M1109.9 185.8V228.5" stroke="#22ab94"/><path d="M1110.5 189.6V205.5M1111.2 200.9V221.2M1111.9 190.5V226.3" stroke="#f7525f"/><path d="M1112.5 204.9V223.4M1113.2 187.6V216.3" stroke="#22ab94"/><path d="M1113.8 179.4V195.9M1114.5 187.7V197.2" stroke="#f7525f"/><path d="M1115.2 161.7V194.7" stroke="#22ab94"/><path d="M1115.8 158.0V197.2" stroke="#f7525f"/><path d="M1116.5 163.0V191.0" stroke="#22ab94"/><path d="M1117.1 162.1V183.0" stroke="#f7525f"/><path d="M1117.8 150.5V171.2" stroke="#22ab94"/><path d="M1118.5 143.8V163.1" stroke="#f7525f"/><path d="M1119.1 146.5V160.7" stroke="#22ab94"/><path d="M1119.8 150.2V160.8" stroke="#f7525f"/><path d="M1120.5 133.7V176.0" stroke="#22ab94"/><path d="M1121.1 136.3V158.8M1121.8 138.7V156.8" stroke="#f7525f"/><path d="M1122.4 133.7V156.8" stroke="#22ab94"/><path d="M1123.1 132.3V152.5" stroke="#f7525f"/><path d="M1123.8 130.5V156.8M1124.4 135.8V156.8M1125.1 141.2V143.5" stroke="#22ab94"/><path d="M1125.7 140.0V156.8" stroke="#f7525f"/><path d="M1126.4 141.8V156.8M1127.1 126.5V150.0M1127.7 124.2V143.8M1128.4 107.6V137.6" stroke="#22ab94"/><path d="M1129.1 100.2V124.5M1129.7 103.4V132.5" stroke="#f7525f"/><path d="M1130.4 121.2V135.1M1131.0 91.5V132.3M1131.7 94.1V120.2" stroke="#22ab94"/><path d="M1132.4 85.6V111.3M1133.0 104.2V114.0" stroke="#f7525f"/><path d="M1133.7 95.4V116.2M1134.4 91.4V105.6M1135.0 85.9V106.8M1135.7 92.2V101.7M1136.3 70.5V98.8" stroke="#22ab94"/><path d="M1137.0 69.6V90.3" stroke="#f7525f"/></g>
</svg>
<svg width="1271" height="955" viewBox="0 0 1271 955">
<path d="M13 925H24V937.6H18.2V930.2H13Z" fill="#e6e6e6"/>
<circle cx="27.9" cy="927.4" r="2.5" fill="#e6e6e6"/>
<path d="M33.2 925H38.9L33.9 937.6H28Z" fill="#e6e6e6"/>
</svg>
<div class="t" style="left:23.8px;top:25.3px;font-size:16px;font-weight:400;letter-spacing:-0.254px;color:#c8c9cb">BITCOIN / USD, 1D, COINBASE</div><div class="t" style="left:259.9px;top:25.3px;font-size:16px;font-weight:400;letter-spacing:0px;color:#c8c9cb">O</div><div class="t" style="left:272.8px;top:25.3px;font-size:16px;font-weight:400;letter-spacing:-0.156px;color:#f23645">111,722.54</div><div class="t" style="left:359.7px;top:25.3px;font-size:16px;font-weight:400;letter-spacing:0px;color:#c8c9cb">H</div><div class="t" style="left:371.5px;top:25.3px;font-size:16px;font-weight:400;letter-spacing:-0.056px;color:#f23645">111,824.07</div><div class="t" style="left:457.7px;top:25.3px;font-size:16px;font-weight:400;letter-spacing:0px;color:#c8c9cb">L</div><div class="t" style="left:466.6px;top:25.3px;font-size:16px;font-weight:400;letter-spacing:-0.1px;color:#f23645">107,327.94</div><div class="t" style="left:554.7px;top:25.3px;font-size:16px;font-weight:400;letter-spacing:0px;color:#c8c9cb">C</div><div class="t" style="left:567.3px;top:25.3px;font-size:16px;font-weight:400;letter-spacing:0.022px;color:#f23645">107,840.20</div><div class="t" style="left:658.1px;top:25.3px;font-size:16px;font-weight:400;letter-spacing:0.638px;color:#f23645">−3,882.33</div><div class="t" style="left:740.3px;top:25.3px;font-size:16px;font-weight:400;letter-spacing:0.471px;color:#f23645">(−3.47%)</div><div class="t" style="left:23.5px;top:47.6px;font-size:16px;font-weight:400;letter-spacing:0.31px;color:#c8c9cb">(Capriole.com) Macro Index BTC</div><div class="t" style="left:23.5px;top:598.3px;font-size:16px;font-weight:400;letter-spacing:0.355px;color:#c8c9cb">(Capriole.com) Macro Index Oscillator BTC (0)</div><div class="t" style="left:378.1px;top:598.3px;font-size:16px;font-weight:400;letter-spacing:-0.1px;color:#22d3a0">0.70</div><div class="t" style="left:1155.5px;top:529.1px;font-size:16px;font-weight:400;letter-spacing:0.875px;color:#c8c9cb">10,000.00</div><div class="t" style="left:1155.5px;top:483.1px;font-size:16px;font-weight:400;letter-spacing:0.875px;color:#c8c9cb">20,000.00</div><div class="t" style="left:1155.5px;top:437.1px;font-size:16px;font-weight:400;letter-spacing:0.875px;color:#c8c9cb">30,000.00</div><div class="t" style="left:1156.5px;top:391.1px;font-size:16px;font-weight:400;letter-spacing:0.75px;color:#c8c9cb">40,000.00</div><div class="t" style="left:1155.5px;top:345.1px;font-size:16px;font-weight:400;letter-spacing:0.875px;color:#c8c9cb">50,000.00</div><div class="t" style="left:1155.5px;top:299.1px;font-size:16px;font-weight:400;letter-spacing:0.875px;color:#c8c9cb">60,000.00</div><div class="t" style="left:1155.5px;top:253.1px;font-size:16px;font-weight:400;letter-spacing:0.875px;color:#c8c9cb">70,000.00</div><div class="t" style="left:1155.5px;top:207.1px;font-size:16px;font-weight:400;letter-spacing:0.875px;color:#c8c9cb">80,000.00</div><div class="t" style="left:1155.5px;top:161.1px;font-size:16px;font-weight:400;letter-spacing:0.875px;color:#c8c9cb">90,000.00</div><div class="t" style="left:1155.5px;top:115.1px;font-size:16px;font-weight:400;letter-spacing:0.833px;color:#c8c9cb">100,000.00</div><div class="t" style="left:1155.5px;top:69.1px;font-size:16px;font-weight:400;letter-spacing:0.944px;color:#c8c9cb">110,000.00</div><div class="t" style="left:1155.5px;top:23.1px;font-size:16px;font-weight:400;letter-spacing:0.833px;color:#c8c9cb">120,000.00</div><div class="t" style="left:1154.7px;top:600.4px;font-size:16px;font-weight:400;letter-spacing:0.9px;color:#c8c9cb">3.00</div><div class="t" style="left:1154.7px;top:644.4px;font-size:16px;font-weight:400;letter-spacing:0.9px;color:#c8c9cb">2.00</div><div class="t" style="left:1154.7px;top:688.4px;font-size:16px;font-weight:400;letter-spacing:0.9px;color:#c8c9cb">1.00</div><div class="t" style="left:1155.7px;top:732.4px;font-size:16px;font-weight:400;letter-spacing:0.567px;color:#c8c9cb">0.00</div><div class="t" style="left:1154.7px;top:776.4px;font-size:16px;font-weight:400;letter-spacing:1.05px;color:#c8c9cb">−1.00</div><div class="t" style="left:1154.7px;top:820.4px;font-size:16px;font-weight:400;letter-spacing:1.05px;color:#c8c9cb">−2.00</div><div class="t" style="left:57.0px;top:882.8px;font-size:16px;font-weight:700;letter-spacing:1.0px;color:#c8c9cb">2021</div><div class="t" style="left:186.0px;top:882.8px;font-size:16px;font-weight:400;letter-spacing:0.6px;color:#c8c9cb">Jul</div><div class="t" style="left:299.2px;top:882.8px;font-size:16px;font-weight:700;letter-spacing:1.333px;color:#c8c9cb">2022</div><div class="t" style="left:427.8px;top:882.8px;font-size:16px;font-weight:400;letter-spacing:0.6px;color:#c8c9cb">Jul</div><div class="t" style="left:540.6px;top:882.8px;font-size:16px;font-weight:700;letter-spacing:1.333px;color:#c8c9cb">2023</div><div class="t" style="left:669.0px;top:882.8px;font-size:16px;font-weight:400;letter-spacing:0.6px;color:#c8c9cb">Jul</div><div class="t" style="left:781.7px;top:882.8px;font-size:16px;font-weight:700;letter-spacing:1.0px;color:#c8c9cb">2024</div><div class="t" style="left:911.2px;top:882.8px;font-size:16px;font-weight:400;letter-spacing:0.6px;color:#c8c9cb">Jul</div><div class="t" style="left:1023.9px;top:882.8px;font-size:16px;font-weight:700;letter-spacing:1.0px;color:#c8c9cb">2025</div>
<svg width="1271" height="955" viewBox="0 0 1271 955">
<rect x="1068.5" y="78.3" width="182.5" height="22.2" rx="2.5" fill="#ffffff"/>
<rect x="1144" y="78.3" width="1.2" height="22.2" fill="#1d1d1d"/>
</svg>
<div class="t" style="left:1073.5px;top:80.9px;font-size:16px;font-weight:400;letter-spacing:-0.06px;color:#131722">BTCUSD</div><div class="t" style="left:1155.4px;top:80.9px;font-size:16px;font-weight:400;letter-spacing:0.878px;color:#131722">107,840.20</div><div class="t" style="left:45.1px;top:923.3px;font-size:18px;font-weight:400;letter-spacing:-0.25px;color:#e6e6e6;-webkit-text-stroke:0.45px #e6e6e6">TradingView</div>
</body></html>
